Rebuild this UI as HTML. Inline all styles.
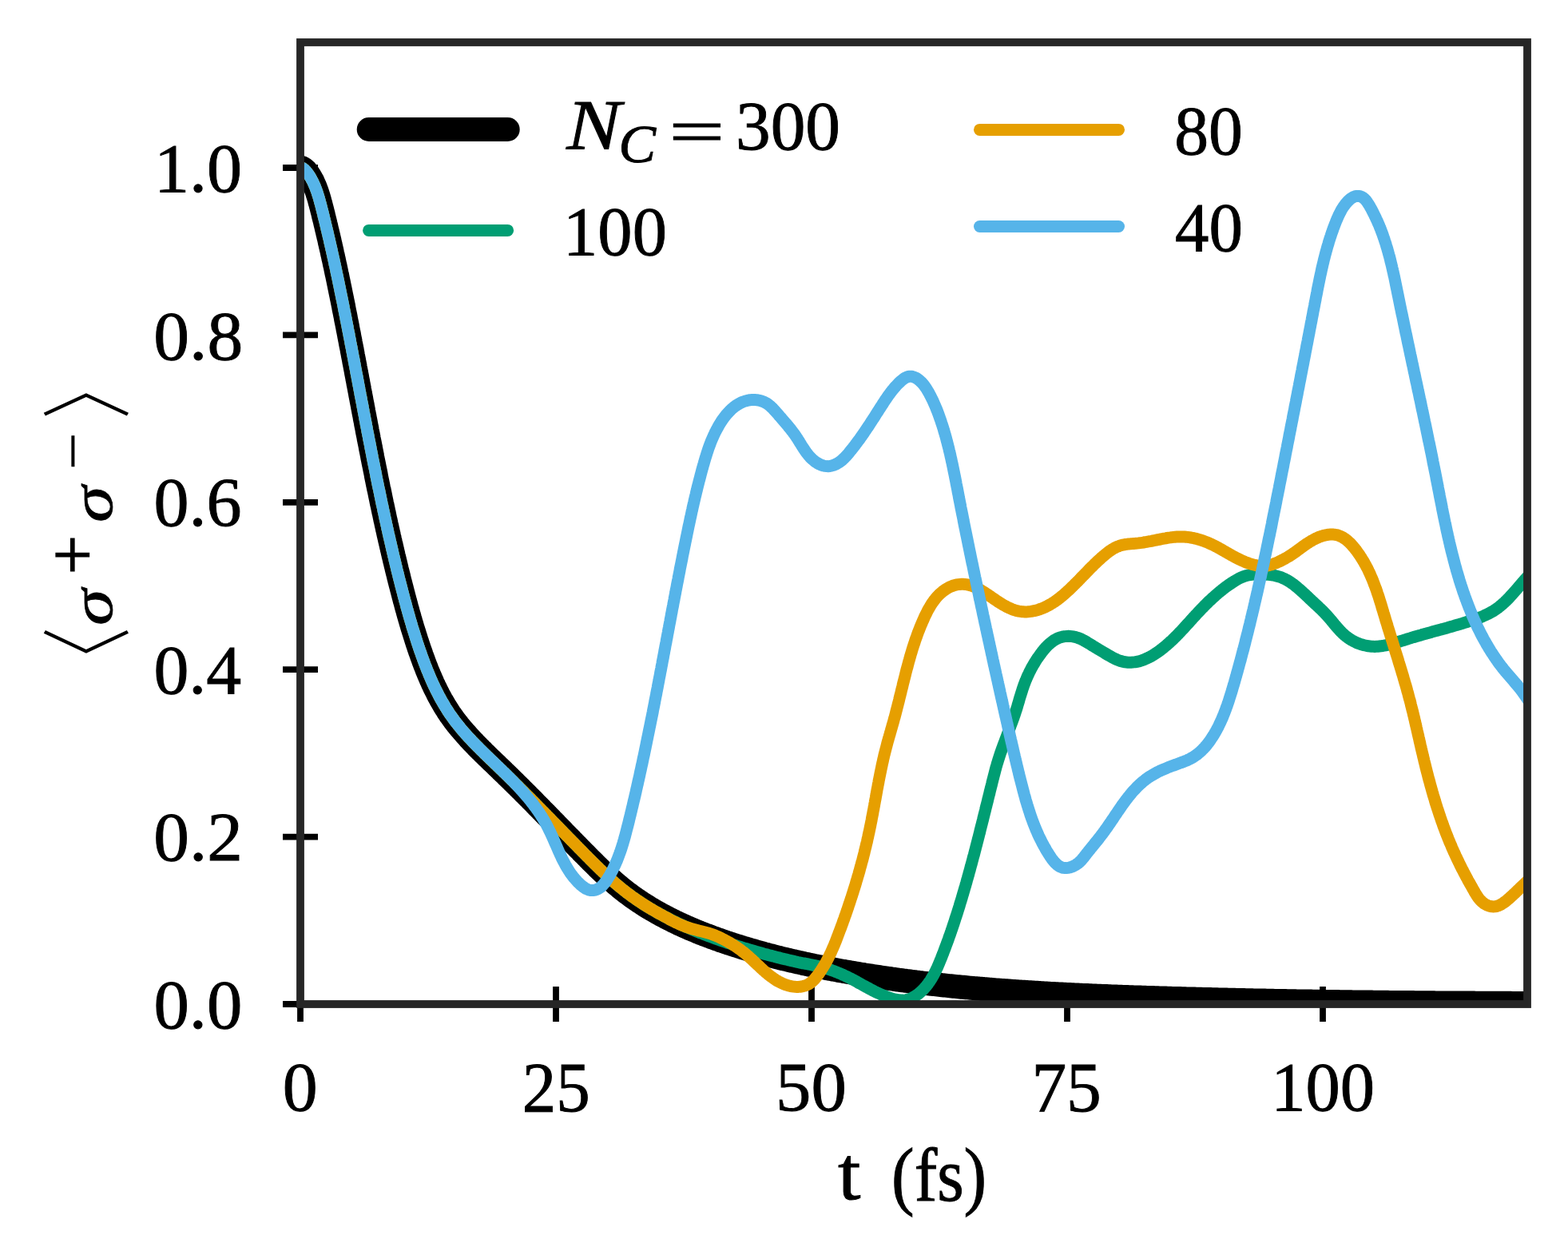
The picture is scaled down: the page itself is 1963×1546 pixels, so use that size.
<!DOCTYPE html>
<html><head><meta charset="utf-8"><title>plot</title><style>html,body{margin:0;padding:0;background:#fff;overflow:hidden}svg{display:block}</style></head><body>
<svg xmlns="http://www.w3.org/2000/svg" width="1963" height="1546" viewBox="0 0 1963 1546">
<rect width="1963" height="1546" fill="#ffffff"/>
<defs><clipPath id="ax"><rect x="376" y="53" width="1536" height="1204"/></clipPath></defs>
<path d="M376.0,1235 V1279 M696.0,1235 V1279 M1016.0,1235 V1279 M1336.0,1235 V1279 M1656.0,1235 V1279 M354,1257.0 H398 M354,1047.6 H398 M354,838.2 H398 M354,628.8 H398 M354,419.4 H398 M354,210.0 H398" stroke="#000" stroke-width="7.8" fill="none"/>
<g clip-path="url(#ax)" fill="none" stroke-linecap="round" stroke-linejoin="round">
<path d="M360.0,210.0 L361.8,210.2 L363.8,210.1 L365.9,209.9 L368.1,209.6 L370.3,209.4 L372.5,209.2 L374.5,209.3 L376.5,209.6 L378.2,210.2 L379.8,211.2 L381.3,212.3 L382.7,213.7 L383.9,215.2 L385.1,216.7 L386.3,218.3 L387.4,219.9 L388.4,221.6 L389.4,223.3 L390.3,225.0 L391.3,226.7 L392.1,228.5 L392.9,230.3 L393.7,232.1 L394.5,233.9 L395.2,235.7 L395.9,237.6 L396.6,239.4 L397.2,241.3 L397.8,243.2 L398.4,245.1 L399.0,247.0 L399.6,249.0 L400.1,250.9 L400.6,252.9 L401.2,254.8 L401.7,256.8 L402.2,258.7 L402.7,260.7 L403.2,262.6 L403.7,264.6 L404.2,266.5 L404.7,268.5 L405.1,270.5 L405.6,272.4 L406.1,274.4 L406.6,276.3 L407.1,278.3 L407.5,280.2 L408.0,282.2 L408.5,284.1 L408.9,286.1 L409.4,288.1 L409.9,290.0 L410.3,292.0 L410.8,293.9 L411.2,295.9 L411.7,297.8 L412.2,299.8 L412.6,301.7 L413.0,303.7 L413.5,305.6 L413.9,307.6 L414.4,309.5 L414.8,311.5 L415.3,313.4 L415.7,315.4 L416.1,317.3 L416.6,319.3 L417.0,321.2 L417.4,323.2 L417.9,325.1 L418.3,327.1 L418.7,329.0 L419.1,331.0 L419.6,332.9 L420.0,334.9 L420.4,336.8 L420.8,338.8 L421.2,340.8 L421.6,342.7 L422.1,344.7 L422.5,346.6 L422.9,348.6 L423.3,350.5 L423.7,352.5 L424.1,354.4 L424.5,356.4 L424.9,358.3 L425.3,360.3 L425.7,362.2 L426.1,364.2 L426.5,366.1 L426.9,368.1 L427.3,370.0 L427.7,372.0 L428.1,373.9 L428.5,375.9 L428.9,377.8 L429.3,379.8 L429.7,381.8 L430.1,383.7 L430.4,385.7 L430.8,387.6 L431.2,389.6 L431.6,391.5 L432.0,393.5 L432.4,395.4 L432.8,397.4 L433.1,399.4 L433.5,401.3 L433.9,403.3 L434.3,405.2 L434.7,407.2 L435.1,409.1 L435.4,411.1 L435.8,413.1 L436.2,415.0 L436.6,417.0 L437.0,418.9 L437.3,420.9 L437.7,422.9 L438.1,424.8 L438.5,426.8 L438.8,428.7 L439.2,430.7 L439.6,432.7 L440.0,434.6 L440.4,436.6 L440.7,438.5 L441.1,440.5 L441.5,442.5 L441.8,444.4 L442.2,446.4 L442.6,448.4 L443.0,450.3 L443.3,452.3 L443.7,454.2 L444.1,456.2 L444.5,458.2 L444.8,460.1 L445.2,462.1 L445.6,464.1 L445.9,466.0 L446.3,468.0 L446.7,470.0 L447.1,471.9 L447.4,473.9 L447.8,475.8 L448.2,477.8 L448.5,479.8 L448.9,481.7 L449.3,483.7 L449.7,485.7 L450.0,487.6 L450.4,489.6 L450.8,491.6 L451.1,493.5 L451.5,495.5 L451.9,497.5 L452.3,499.4 L452.6,501.4 L453.0,503.4 L453.4,505.3 L453.8,507.3 L454.1,509.3 L454.5,511.2 L454.9,513.2 L455.2,515.1 L455.6,517.1 L456.0,519.1 L456.4,521.0 L456.7,523.0 L457.1,525.0 L457.5,526.9 L457.9,528.9 L458.2,530.9 L458.6,532.8 L459.0,534.8 L459.4,536.8 L459.7,538.7 L460.1,540.7 L460.5,542.7 L460.9,544.6 L461.3,546.6 L461.6,548.6 L462.0,550.5 L462.4,552.5 L462.8,554.4 L463.2,556.4 L463.6,558.4 L463.9,560.3 L464.3,562.3 L464.7,564.3 L465.1,566.2 L465.5,568.2 L465.9,570.2 L466.2,572.1 L466.6,574.1 L467.0,576.0 L467.4,578.0 L467.8,580.0 L468.2,581.9 L468.6,583.9 L469.0,585.9 L469.4,587.8 L469.8,589.8 L470.2,591.7 L470.6,593.7 L470.9,595.7 L471.3,597.6 L471.7,599.6 L472.1,601.5 L472.5,603.5 L472.9,605.5 L473.3,607.4 L473.7,609.4 L474.1,611.3 L474.6,613.3 L475.0,615.3 L475.4,617.2 L475.8,619.2 L476.2,621.1 L476.6,623.1 L477.0,625.0 L477.4,627.0 L477.8,629.0 L478.2,630.9 L478.7,632.9 L479.1,634.8 L479.5,636.8 L479.9,638.7 L480.3,640.7 L480.8,642.6 L481.2,644.6 L481.6,646.6 L482.0,648.5 L482.4,650.5 L482.9,652.4 L483.3,654.4 L483.7,656.3 L484.2,658.3 L484.6,660.2 L485.0,662.2 L485.5,664.1 L485.9,666.1 L486.3,668.0 L486.8,670.0 L487.2,671.9 L487.7,673.9 L488.1,675.8 L488.6,677.8 L489.0,679.7 L489.5,681.6 L489.9,683.6 L490.4,685.5 L490.8,687.5 L491.3,689.4 L491.7,691.4 L492.2,693.3 L492.6,695.3 L493.1,697.2 L493.6,699.1 L494.0,701.1 L494.5,703.0 L495.0,705.0 L495.4,706.9 L495.9,708.8 L496.4,710.8 L496.8,712.7 L497.3,714.7 L497.8,716.6 L498.3,718.5 L498.8,720.5 L499.2,722.4 L499.7,724.3 L500.2,726.3 L500.7,728.2 L501.2,730.1 L501.7,732.1 L502.2,734.0 L502.7,735.9 L503.2,737.9 L503.7,739.8 L504.2,741.7 L504.7,743.6 L505.2,745.6 L505.7,747.5 L506.2,749.4 L506.7,751.4 L507.3,753.3 L507.8,755.2 L508.3,757.1 L508.8,759.1 L509.3,761.0 L509.9,762.9 L510.4,764.8 L510.9,766.7 L511.5,768.7 L512.0,770.6 L512.6,772.5 L513.1,774.4 L513.7,776.3 L514.2,778.2 L514.8,780.2 L515.4,782.1 L515.9,784.0 L516.5,785.9 L517.1,787.8 L517.7,789.7 L518.3,791.6 L518.9,793.5 L519.5,795.4 L520.1,797.3 L520.7,799.2 L521.3,801.2 L521.9,803.1 L522.5,805.0 L523.2,806.9 L523.8,808.8 L524.4,810.7 L525.1,812.6 L525.7,814.5 L526.4,816.3 L527.1,818.2 L527.7,820.1 L528.4,822.0 L529.1,823.9 L529.8,825.8 L530.5,827.7 L531.2,829.6 L531.9,831.5 L532.6,833.3 L533.4,835.2 L534.1,837.1 L534.8,839.0 L535.6,840.8 L536.4,842.7 L537.1,844.5 L537.9,846.4 L538.7,848.2 L539.5,850.1 L540.3,851.9 L541.1,853.7 L541.9,855.6 L542.8,857.4 L543.6,859.2 L544.5,861.0 L545.4,862.8 L546.3,864.6 L547.2,866.4 L548.1,868.2 L549.0,870.0 L549.9,871.7 L550.9,873.5 L551.8,875.2 L552.8,877.0 L553.8,878.7 L554.8,880.4 L555.8,882.1 L556.8,883.8 L557.8,885.5 L558.9,887.2 L560.0,888.9 L561.0,890.6 L562.1,892.2 L563.2,893.9 L564.4,895.5 L565.5,897.1 L566.7,898.7 L567.8,900.3 L569.0,901.9 L570.2,903.5 L571.4,905.1 L572.7,906.6 L573.9,908.2 L575.2,909.7 L576.4,911.3 L577.7,912.8 L579.0,914.3 L580.3,915.8 L581.6,917.3 L582.9,918.8 L584.3,920.3 L585.6,921.8 L586.9,923.3 L588.3,924.7 L589.7,926.2 L591.0,927.7 L592.4,929.1 L593.8,930.6 L595.2,932.0 L596.6,933.4 L598.0,934.9 L599.4,936.3 L600.8,937.7 L602.2,939.1 L603.7,940.5 L605.1,942.0 L606.5,943.4 L608.0,944.8 L609.4,946.2 L610.9,947.6 L612.3,949.0 L613.7,950.4 L615.2,951.8 L616.6,953.2 L618.1,954.5 L619.5,955.9 L621.0,957.3 L622.4,958.7 L623.9,960.1 L625.3,961.5 L626.8,962.9 L628.2,964.3 L629.7,965.7 L631.1,967.1 L632.6,968.5 L634.0,969.9 L635.4,971.3 L636.9,972.7 L638.3,974.1 L639.7,975.5 L641.2,976.9 L642.6,978.3 L644.0,979.7 L645.4,981.1 L646.8,982.5 L648.3,983.9 L649.7,985.3 L651.1,986.7 L652.5,988.1 L653.9,989.5 L655.3,990.9 L656.7,992.3 L658.1,993.7 L659.5,995.1 L660.9,996.6 L662.4,998.0 L663.8,999.4 L665.2,1000.8 L666.6,1002.2 L668.0,1003.6 L669.4,1005.0 L670.7,1006.5 L672.1,1007.9 L673.5,1009.3 L674.9,1010.7 L676.3,1012.1 L677.7,1013.6 L679.1,1015.0 L680.5,1016.4 L681.9,1017.8 L683.3,1019.2 L684.7,1020.7 L686.1,1022.1 L687.5,1023.5 L688.9,1024.9 L690.2,1026.4 L691.6,1027.8 L693.0,1029.2 L694.4,1030.6 L695.8,1032.1 L697.2,1033.5 L698.6,1034.9 L700.0,1036.4 L701.4,1037.8 L702.8,1039.2 L704.2,1040.6 L705.5,1042.1 L706.9,1043.5 L708.3,1044.9 L709.7,1046.4 L711.1,1047.8 L712.5,1049.2 L713.9,1050.6 L715.3,1052.1 L716.7,1053.5 L718.1,1054.9 L719.5,1056.4 L720.9,1057.8 L722.3,1059.2 L723.7,1060.7 L725.1,1062.1 L726.5,1063.5 L727.9,1064.9 L729.3,1066.4 L730.7,1067.8 L732.1,1069.2 L733.6,1070.7 L735.0,1072.1 L736.4,1073.5 L737.8,1075.0 L739.2,1076.4 L740.6,1077.8 L742.1,1079.2 L743.5,1080.6 L744.9,1082.1 L746.4,1083.5 L747.8,1084.9 L749.2,1086.3 L750.7,1087.7 L752.1,1089.1 L753.6,1090.5 L755.0,1091.9 L756.5,1093.2 L758.0,1094.6 L759.4,1096.0 L760.9,1097.3 L762.4,1098.7 L763.9,1100.0 L765.4,1101.4 L766.9,1102.7 L768.4,1104.0 L769.9,1105.3 L771.4,1106.6 L772.9,1107.9 L774.5,1109.2 L776.0,1110.5 L777.6,1111.8 L779.1,1113.0 L780.7,1114.3 L782.3,1115.5 L783.8,1116.7 L785.4,1117.9 L787.0,1119.1 L788.6,1120.3 L790.2,1121.5 L791.8,1122.7 L793.5,1123.8 L795.1,1124.9 L796.7,1126.1 L798.4,1127.2 L800.0,1128.3 L801.7,1129.4 L803.3,1130.5 L805.0,1131.6 L806.7,1132.7 L808.4,1133.7 L810.0,1134.8 L811.7,1135.8 L813.4,1136.9 L815.1,1137.9 L816.9,1138.9 L818.6,1139.9 L820.3,1140.9 L822.0,1141.9 L823.8,1142.9 L825.5,1143.8 L827.3,1144.8 L829.0,1145.7 L830.8,1146.7 L832.5,1147.6 L834.3,1148.5 L836.1,1149.4 L837.8,1150.3 L839.6,1151.2 L841.4,1152.1 L843.2,1153.0 L845.0,1153.9 L846.8,1154.7 L848.6,1155.6 L850.4,1156.5 L852.2,1157.3 L854.0,1158.1 L855.9,1159.0 L857.7,1159.8 L859.5,1160.6 L861.4,1161.4 L863.2,1162.2 L865.0,1163.0 L866.9,1163.8 L868.7,1164.5 L870.6,1165.3 L872.4,1166.1 L874.3,1166.8 L876.1,1167.6 L878.0,1168.3 L879.9,1169.0 L881.7,1169.8 L883.6,1170.5 L885.5,1171.2 L887.4,1171.9 L889.2,1172.6 L891.1,1173.3 L893.0,1174.0 L894.9,1174.7 L896.8,1175.4 L898.7,1176.0 L900.6,1176.7 L902.4,1177.4 L904.3,1178.0 L906.2,1178.7 L908.1,1179.3 L910.0,1180.0 L911.9,1180.6 L913.8,1181.2 L915.7,1181.8 L917.6,1182.5 L919.6,1183.1 L921.5,1183.7 L923.4,1184.3 L925.3,1184.9 L927.2,1185.5 L929.1,1186.1 L931.0,1186.7 L932.9,1187.2 L934.9,1187.8 L936.8,1188.4 L938.7,1189.0 L940.6,1189.5 L942.5,1190.1 L944.5,1190.6 L946.4,1191.2 L948.3,1191.7 L950.2,1192.3 L952.2,1192.8 L954.1,1193.3 L956.0,1193.9 L957.9,1194.4 L959.9,1194.9 L961.8,1195.4 L963.7,1195.9 L965.7,1196.4 L967.6,1197.0 L969.6,1197.4 L971.5,1197.9 L973.4,1198.4 L975.4,1198.9 L977.3,1199.4 L979.2,1199.9 L981.2,1200.4 L983.1,1200.8 L985.1,1201.3 L987.0,1201.8 L989.0,1202.2 L990.9,1202.7 L992.9,1203.1 L994.8,1203.6 L996.8,1204.0 L998.7,1204.5 L1000.7,1204.9 L1002.6,1205.3 L1004.6,1205.8 L1006.5,1206.2 L1008.5,1206.6 L1010.4,1207.0 L1012.4,1207.4 L1014.3,1207.9 L1016.3,1208.3 L1018.2,1208.7 L1020.2,1209.1 L1022.2,1209.5 L1024.1,1209.9 L1026.1,1210.3 L1028.0,1210.7 L1030.0,1211.0 L1032.0,1211.4 L1033.9,1211.8 L1035.9,1212.2 L1037.8,1212.6 L1039.8,1212.9 L1041.8,1213.3 L1043.7,1213.7 L1045.7,1214.0 L1047.7,1214.4 L1049.6,1214.8 L1051.6,1215.1 L1053.6,1215.5 L1055.5,1215.8 L1057.5,1216.2 L1059.5,1216.5 L1061.4,1216.9 L1063.4,1217.2 L1065.4,1217.5 L1067.3,1217.9 L1069.3,1218.2 L1071.3,1218.5 L1073.2,1218.9 L1075.2,1219.2 L1077.2,1219.5 L1079.2,1219.8 L1081.1,1220.2 L1083.1,1220.5 L1085.1,1220.8 L1087.0,1221.1 L1089.0,1221.4 L1091.0,1221.7 L1093.0,1222.0 L1094.9,1222.3 L1096.9,1222.6 L1098.9,1222.9 L1100.9,1223.2 L1102.8,1223.5 L1104.8,1223.8 L1106.8,1224.1 L1108.8,1224.4 L1110.7,1224.7 L1112.7,1224.9 L1114.7,1225.2 L1116.7,1225.5 L1118.6,1225.8 L1120.6,1226.0 L1122.6,1226.3 L1124.6,1226.6 L1126.5,1226.8 L1128.5,1227.1 L1130.5,1227.4 L1132.5,1227.6 L1134.5,1227.9 L1136.4,1228.1 L1138.4,1228.4 L1140.4,1228.7 L1142.4,1228.9 L1144.4,1229.1 L1146.3,1229.4 L1148.3,1229.6 L1150.3,1229.9 L1152.3,1230.1 L1154.3,1230.4 L1156.3,1230.6 L1158.2,1230.8 L1160.2,1231.1 L1162.2,1231.3 L1164.2,1231.5 L1166.2,1231.7 L1168.2,1232.0 L1170.1,1232.2 L1172.1,1232.4 L1174.1,1232.6 L1176.1,1232.8 L1178.1,1233.0 L1180.1,1233.3 L1182.1,1233.5 L1184.0,1233.7 L1186.0,1233.9 L1188.0,1234.1 L1190.0,1234.3 L1192.0,1234.5 L1194.0,1234.7 L1196.0,1234.9 L1197.9,1235.1 L1199.9,1235.3 L1201.9,1235.5 L1203.9,1235.7 L1205.9,1235.8 L1207.9,1236.0 L1209.9,1236.2 L1211.9,1236.4 L1213.9,1236.6 L1215.8,1236.8 L1217.8,1236.9 L1219.8,1237.1 L1221.8,1237.3 L1223.8,1237.5 L1225.8,1237.6 L1227.8,1237.8 L1229.8,1238.0 L1231.8,1238.1 L1233.8,1238.3 L1235.8,1238.5 L1237.7,1238.6 L1239.7,1238.8 L1241.7,1239.0 L1243.7,1239.1 L1245.7,1239.3 L1247.7,1239.4 L1249.7,1239.6 L1251.7,1239.7 L1253.7,1239.9 L1255.7,1240.0 L1257.7,1240.2 L1259.7,1240.3 L1261.7,1240.5 L1263.6,1240.6 L1265.6,1240.7 L1267.6,1240.9 L1269.6,1241.0 L1271.6,1241.2 L1273.6,1241.3 L1275.6,1241.4 L1277.6,1241.6 L1279.6,1241.7 L1281.6,1241.8 L1283.6,1242.0 L1285.6,1242.1 L1287.6,1242.2 L1289.6,1242.3 L1291.6,1242.5 L1293.6,1242.6 L1295.6,1242.7 L1297.6,1242.8 L1299.6,1243.0 L1301.6,1243.1 L1303.6,1243.2 L1305.5,1243.3 L1307.5,1243.4 L1309.5,1243.5 L1311.5,1243.7 L1313.5,1243.8 L1315.5,1243.9 L1317.5,1244.0 L1319.5,1244.1 L1321.5,1244.2 L1323.5,1244.3 L1325.5,1244.4 L1327.5,1244.5 L1329.5,1244.6 L1331.5,1244.7 L1333.5,1244.8 L1335.5,1244.9 L1337.5,1245.0 L1339.5,1245.1 L1341.5,1245.2 L1343.5,1245.3 L1345.5,1245.4 L1347.5,1245.5 L1349.5,1245.6 L1351.5,1245.7 L1353.5,1245.8 L1355.5,1245.9 L1357.5,1246.0 L1359.5,1246.1 L1361.5,1246.1 L1363.5,1246.2 L1365.5,1246.3 L1367.5,1246.4 L1369.5,1246.5 L1371.5,1246.6 L1373.5,1246.7 L1375.5,1246.7 L1377.5,1246.8 L1379.5,1246.9 L1381.5,1247.0 L1383.5,1247.1 L1385.5,1247.1 L1387.5,1247.2 L1389.5,1247.3 L1391.5,1247.4 L1393.5,1247.4 L1395.5,1247.5 L1397.5,1247.6 L1399.5,1247.7 L1401.5,1247.7 L1403.5,1247.8 L1405.5,1247.9 L1407.5,1248.0 L1409.5,1248.0 L1411.5,1248.1 L1413.5,1248.2 L1415.5,1248.2 L1417.5,1248.3 L1419.5,1248.4 L1421.5,1248.4 L1423.5,1248.5 L1425.5,1248.6 L1427.5,1248.6 L1429.5,1248.7 L1431.5,1248.8 L1433.5,1248.8 L1435.5,1248.9 L1437.5,1249.0 L1439.5,1249.0 L1441.5,1249.1 L1443.5,1249.1 L1445.5,1249.2 L1447.5,1249.3 L1449.4,1249.3 L1451.4,1249.4 L1453.4,1249.4 L1455.4,1249.5 L1457.4,1249.6 L1459.4,1249.6 L1461.4,1249.7 L1463.4,1249.7 L1465.4,1249.8 L1467.4,1249.9 L1469.4,1249.9 L1471.4,1250.0 L1473.4,1250.0 L1475.4,1250.1 L1477.4,1250.1 L1479.4,1250.2 L1481.4,1250.3 L1483.4,1250.3 L1485.4,1250.4 L1487.4,1250.4 L1489.4,1250.5 L1491.4,1250.5 L1493.4,1250.6 L1495.4,1250.6 L1497.4,1250.7 L1499.4,1250.7 L1501.4,1250.8 L1503.4,1250.8 L1505.4,1250.9 L1507.4,1250.9 L1509.4,1251.0 L1511.4,1251.0 L1513.4,1251.1 L1515.4,1251.1 L1517.4,1251.2 L1519.4,1251.2 L1521.4,1251.3 L1523.4,1251.3 L1525.4,1251.4 L1527.4,1251.4 L1529.4,1251.5 L1531.4,1251.5 L1533.4,1251.6 L1535.4,1251.6 L1537.4,1251.7 L1539.4,1251.7 L1541.4,1251.8 L1543.4,1251.8 L1545.4,1251.8 L1547.4,1251.9 L1549.4,1251.9 L1551.4,1252.0 L1553.4,1252.0 L1555.4,1252.1 L1557.3,1252.1 L1559.3,1252.2 L1561.3,1252.2 L1563.3,1252.2 L1565.3,1252.3 L1567.3,1252.3 L1569.3,1252.4 L1571.3,1252.4 L1573.3,1252.4 L1575.3,1252.5 L1577.3,1252.5 L1579.3,1252.6 L1581.3,1252.6 L1583.3,1252.6 L1585.3,1252.7 L1587.3,1252.7 L1589.3,1252.8 L1591.3,1252.8 L1593.3,1252.8 L1595.3,1252.9 L1597.3,1252.9 L1599.3,1252.9 L1601.3,1253.0 L1603.3,1253.0 L1605.3,1253.0 L1607.3,1253.1 L1609.3,1253.1 L1611.3,1253.2 L1613.3,1253.2 L1615.3,1253.2 L1617.3,1253.3 L1619.3,1253.3 L1621.3,1253.3 L1623.3,1253.4 L1625.3,1253.4 L1627.3,1253.4 L1629.2,1253.5 L1631.2,1253.5 L1633.2,1253.5 L1635.2,1253.6 L1637.2,1253.6 L1639.2,1253.6 L1641.2,1253.6 L1643.2,1253.7 L1645.2,1253.7 L1647.2,1253.7 L1649.2,1253.8 L1651.2,1253.8 L1653.2,1253.8 L1655.2,1253.9 L1657.2,1253.9 L1659.2,1253.9 L1661.2,1253.9 L1663.2,1254.0 L1665.2,1254.0 L1667.2,1254.0 L1669.2,1254.1 L1671.2,1254.1 L1673.2,1254.1 L1675.2,1254.1 L1677.2,1254.2 L1679.2,1254.2 L1681.2,1254.2 L1683.2,1254.2 L1685.2,1254.3 L1687.2,1254.3 L1689.2,1254.3 L1691.2,1254.3 L1693.2,1254.4 L1695.2,1254.4 L1697.2,1254.4 L1699.1,1254.4 L1701.1,1254.5 L1703.1,1254.5 L1705.1,1254.5 L1707.1,1254.5 L1709.1,1254.5 L1711.1,1254.6 L1713.1,1254.6 L1715.1,1254.6 L1717.1,1254.6 L1719.1,1254.7 L1721.1,1254.7 L1723.1,1254.7 L1725.1,1254.7 L1727.1,1254.7 L1729.1,1254.8 L1731.1,1254.8 L1733.1,1254.8 L1735.1,1254.8 L1737.1,1254.8 L1739.1,1254.9 L1741.1,1254.9 L1743.1,1254.9 L1745.1,1254.9 L1747.1,1254.9 L1749.1,1255.0 L1751.1,1255.0 L1753.1,1255.0 L1755.1,1255.0 L1757.1,1255.0 L1759.1,1255.1 L1761.1,1255.1 L1763.1,1255.1 L1765.1,1255.1 L1767.1,1255.1 L1769.1,1255.1 L1771.1,1255.2 L1773.1,1255.2 L1775.1,1255.2 L1777.1,1255.2 L1779.1,1255.2 L1781.1,1255.2 L1783.0,1255.2 L1785.0,1255.3 L1787.0,1255.3 L1789.0,1255.3 L1791.0,1255.3 L1793.0,1255.3 L1795.0,1255.3 L1797.0,1255.4 L1799.0,1255.4 L1801.0,1255.4 L1803.0,1255.4 L1805.0,1255.4 L1807.0,1255.4 L1809.0,1255.4 L1811.0,1255.4 L1813.0,1255.5 L1815.0,1255.5 L1817.0,1255.5 L1819.0,1255.5 L1821.0,1255.5 L1823.0,1255.5 L1825.0,1255.5 L1827.0,1255.5 L1829.0,1255.6 L1831.0,1255.6 L1833.0,1255.6 L1835.0,1255.6 L1837.0,1255.6 L1839.0,1255.6 L1841.0,1255.6 L1843.0,1255.6 L1845.0,1255.6 L1847.0,1255.7 L1849.0,1255.7 L1851.0,1255.7 L1853.0,1255.7 L1855.0,1255.7 L1857.0,1255.7 L1859.0,1255.7 L1861.0,1255.7 L1863.0,1255.7 L1865.0,1255.7 L1867.0,1255.8 L1869.0,1255.8 L1871.0,1255.8 L1873.0,1255.8 L1875.0,1255.8 L1877.0,1255.8 L1879.0,1255.8 L1881.0,1255.8 L1883.0,1255.8 L1885.0,1255.8 L1887.0,1255.8 L1889.0,1255.8 L1891.0,1255.8 L1893.0,1255.9 L1895.0,1255.9 L1897.0,1255.9 L1899.0,1255.9 L1901.0,1255.9 L1903.0,1255.9 L1905.0,1255.9 L1907.0,1255.9 L1909.0,1255.9 L1911.0,1255.9 L1913.0,1255.9 L1915.0,1255.9 L1917.0,1255.9 L1919.0,1255.9 L1921.0,1255.9 L1923.0,1256.0 L1925.0,1256.0 L1927.0,1256.0 L1929.0,1256.0 L1931.0,1256.0 L1933.0,1256.0 L1935.0,1256.0" stroke="#000000" stroke-width="30"/>
<path d="M360.0,210.0 L361.8,210.2 L363.8,210.1 L365.9,209.9 L368.1,209.6 L370.3,209.4 L372.5,209.2 L374.5,209.3 L376.5,209.6 L378.2,210.2 L379.8,211.2 L381.3,212.3 L382.7,213.7 L383.9,215.2 L385.1,216.7 L386.3,218.3 L387.4,219.9 L388.4,221.6 L389.4,223.3 L390.3,225.0 L391.3,226.7 L392.1,228.5 L392.9,230.3 L393.7,232.1 L394.5,233.9 L395.2,235.7 L395.9,237.6 L396.6,239.4 L397.2,241.3 L397.8,243.2 L398.4,245.1 L399.0,247.0 L399.6,249.0 L400.1,250.9 L400.6,252.9 L401.2,254.8 L401.7,256.8 L402.2,258.7 L402.7,260.7 L403.2,262.6 L403.7,264.6 L404.2,266.5 L404.7,268.5 L405.1,270.5 L405.6,272.4 L406.1,274.4 L406.6,276.3 L407.1,278.3 L407.5,280.2 L408.0,282.2 L408.5,284.1 L408.9,286.1 L409.4,288.1 L409.9,290.0 L410.3,292.0 L410.8,293.9 L411.2,295.9 L411.7,297.8 L412.2,299.8 L412.6,301.7 L413.0,303.7 L413.5,305.6 L413.9,307.6 L414.4,309.5 L414.8,311.5 L415.3,313.4 L415.7,315.4 L416.1,317.3 L416.6,319.3 L417.0,321.2 L417.4,323.2 L417.9,325.1 L418.3,327.1 L418.7,329.0 L419.1,331.0 L419.6,332.9 L420.0,334.9 L420.4,336.8 L420.8,338.8 L421.2,340.8 L421.6,342.7 L422.1,344.7 L422.5,346.6 L422.9,348.6 L423.3,350.5 L423.7,352.5 L424.1,354.4 L424.5,356.4 L424.9,358.3 L425.3,360.3 L425.7,362.2 L426.1,364.2 L426.5,366.1 L426.9,368.1 L427.3,370.0 L427.7,372.0 L428.1,373.9 L428.5,375.9 L428.9,377.8 L429.3,379.8 L429.7,381.8 L430.1,383.7 L430.4,385.7 L430.8,387.6 L431.2,389.6 L431.6,391.5 L432.0,393.5 L432.4,395.4 L432.8,397.4 L433.1,399.4 L433.5,401.3 L433.9,403.3 L434.3,405.2 L434.7,407.2 L435.1,409.1 L435.4,411.1 L435.8,413.1 L436.2,415.0 L436.6,417.0 L437.0,418.9 L437.3,420.9 L437.7,422.9 L438.1,424.8 L438.5,426.8 L438.8,428.7 L439.2,430.7 L439.6,432.7 L440.0,434.6 L440.4,436.6 L440.7,438.5 L441.1,440.5 L441.5,442.5 L441.8,444.4 L442.2,446.4 L442.6,448.4 L443.0,450.3 L443.3,452.3 L443.7,454.2 L444.1,456.2 L444.5,458.2 L444.8,460.1 L445.2,462.1 L445.6,464.1 L445.9,466.0 L446.3,468.0 L446.7,470.0 L447.1,471.9 L447.4,473.9 L447.8,475.8 L448.2,477.8 L448.5,479.8 L448.9,481.7 L449.3,483.7 L449.7,485.7 L450.0,487.6 L450.4,489.6 L450.8,491.6 L451.1,493.5 L451.5,495.5 L451.9,497.5 L452.3,499.4 L452.6,501.4 L453.0,503.4 L453.4,505.3 L453.8,507.3 L454.1,509.3 L454.5,511.2 L454.9,513.2 L455.2,515.1 L455.6,517.1 L456.0,519.1 L456.4,521.0 L456.7,523.0 L457.1,525.0 L457.5,526.9 L457.9,528.9 L458.2,530.9 L458.6,532.8 L459.0,534.8 L459.4,536.8 L459.7,538.7 L460.1,540.7 L460.5,542.7 L460.9,544.6 L461.3,546.6 L461.6,548.6 L462.0,550.5 L462.4,552.5 L462.8,554.4 L463.2,556.4 L463.6,558.4 L463.9,560.3 L464.3,562.3 L464.7,564.3 L465.1,566.2 L465.5,568.2 L465.9,570.2 L466.2,572.1 L466.6,574.1 L467.0,576.0 L467.4,578.0 L467.8,580.0 L468.2,581.9 L468.6,583.9 L469.0,585.9 L469.4,587.8 L469.8,589.8 L470.2,591.7 L470.6,593.7 L470.9,595.7 L471.3,597.6 L471.7,599.6 L472.1,601.5 L472.5,603.5 L472.9,605.5 L473.3,607.4 L473.7,609.4 L474.1,611.3 L474.6,613.3 L475.0,615.3 L475.4,617.2 L475.8,619.2 L476.2,621.1 L476.6,623.1 L477.0,625.0 L477.4,627.0 L477.8,629.0 L478.2,630.9 L478.7,632.9 L479.1,634.8 L479.5,636.8 L479.9,638.7 L480.3,640.7 L480.8,642.6 L481.2,644.6 L481.6,646.6 L482.0,648.5 L482.4,650.5 L482.9,652.4 L483.3,654.4 L483.7,656.3 L484.2,658.3 L484.6,660.2 L485.0,662.2 L485.5,664.1 L485.9,666.1 L486.3,668.0 L486.8,670.0 L487.2,671.9 L487.7,673.9 L488.1,675.8 L488.6,677.8 L489.0,679.7 L489.5,681.6 L489.9,683.6 L490.4,685.5 L490.8,687.5 L491.3,689.4 L491.7,691.4 L492.2,693.3 L492.6,695.3 L493.1,697.2 L493.6,699.1 L494.0,701.1 L494.5,703.0 L495.0,705.0 L495.4,706.9 L495.9,708.8 L496.4,710.8 L496.8,712.7 L497.3,714.7 L497.8,716.6 L498.3,718.5 L498.8,720.5 L499.2,722.4 L499.7,724.3 L500.2,726.3 L500.7,728.2 L501.2,730.1 L501.7,732.1 L502.2,734.0 L502.7,735.9 L503.2,737.9 L503.7,739.8 L504.2,741.7 L504.7,743.6 L505.2,745.6 L505.7,747.5 L506.2,749.4 L506.7,751.4 L507.3,753.3 L507.8,755.2 L508.3,757.1 L508.8,759.1 L509.3,761.0 L509.9,762.9 L510.4,764.8 L510.9,766.7 L511.5,768.7 L512.0,770.6 L512.6,772.5 L513.1,774.4 L513.7,776.3 L514.2,778.2 L514.8,780.2 L515.4,782.1 L515.9,784.0 L516.5,785.9 L517.1,787.8 L517.7,789.7 L518.3,791.6 L518.9,793.5 L519.5,795.4 L520.1,797.3 L520.7,799.2 L521.3,801.2 L521.9,803.1 L522.5,805.0 L523.2,806.9 L523.8,808.8 L524.4,810.7 L525.1,812.6 L525.7,814.5 L526.4,816.3 L527.1,818.2 L527.7,820.1 L528.4,822.0 L529.1,823.9 L529.8,825.8 L530.5,827.7 L531.2,829.6 L531.9,831.5 L532.6,833.3 L533.4,835.2 L534.1,837.1 L534.8,839.0 L535.6,840.8 L536.4,842.7 L537.1,844.5 L537.9,846.4 L538.7,848.2 L539.5,850.1 L540.3,851.9 L541.1,853.7 L541.9,855.6 L542.8,857.4 L543.6,859.2 L544.5,861.0 L545.4,862.8 L546.3,864.6 L547.2,866.4 L548.1,868.2 L549.0,870.0 L549.9,871.7 L550.9,873.5 L551.8,875.2 L552.8,877.0 L553.8,878.7 L554.8,880.4 L555.8,882.1 L556.8,883.8 L557.8,885.5 L558.9,887.2 L560.0,888.9 L561.0,890.6 L562.1,892.2 L563.2,893.9 L564.4,895.5 L565.5,897.1 L566.7,898.7 L567.8,900.3 L569.0,901.9 L570.2,903.5 L571.4,905.1 L572.7,906.6 L573.9,908.2 L575.2,909.7 L576.4,911.3 L577.7,912.8 L579.0,914.3 L580.3,915.8 L581.6,917.3 L582.9,918.8 L584.3,920.3 L585.6,921.8 L586.9,923.3 L588.3,924.7 L589.7,926.2 L591.0,927.7 L592.4,929.1 L593.8,930.6 L595.2,932.0 L596.6,933.4 L598.0,934.9 L599.4,936.3 L600.8,937.7 L602.2,939.1 L603.7,940.5 L605.1,942.0 L606.5,943.4 L608.0,944.8 L609.4,946.2 L610.9,947.6 L612.3,949.0 L613.7,950.4 L615.2,951.8 L616.6,953.2 L618.1,954.5 L619.5,955.9 L621.0,957.3 L622.4,958.7 L623.9,960.1 L625.3,961.5 L626.8,962.9 L628.2,964.3 L629.7,965.7 L631.1,967.1 L632.6,968.5 L634.0,969.9 L635.4,971.3 L636.9,972.7 L638.3,974.1 L639.7,975.5 L641.2,976.9 L642.6,978.3 L644.0,979.7 L645.4,981.1 L646.8,982.5 L648.3,983.9 L649.7,985.3 L651.1,986.7 L652.5,988.1 L653.9,989.5 L655.3,990.9 L656.7,992.3 L658.1,993.7 L659.5,995.1 L660.9,996.6 L662.4,998.0 L663.8,999.4 L665.2,1000.8 L666.6,1002.2 L668.0,1003.6 L669.4,1005.0 L670.7,1006.5 L672.1,1007.9 L673.5,1009.3 L674.9,1010.7 L676.3,1012.1 L677.7,1013.6 L679.1,1015.0 L680.5,1016.4 L681.9,1017.8 L683.3,1019.2 L684.7,1020.7 L686.1,1022.1 L687.5,1023.5 L688.9,1024.9 L690.2,1026.4 L691.6,1027.8 L693.0,1029.2 L694.4,1030.6 L695.8,1032.1 L697.2,1033.5 L698.6,1034.9 L700.0,1036.4 L701.4,1037.8 L702.8,1039.2 L704.2,1040.6 L705.5,1042.1 L706.9,1043.5 L708.3,1044.9 L709.7,1046.4 L711.1,1047.8 L712.5,1049.2 L713.9,1050.6 L715.3,1052.1 L716.7,1053.5 L718.1,1054.9 L719.5,1056.4 L720.9,1057.8 L722.3,1059.2 L723.7,1060.7 L725.1,1062.1 L726.5,1063.5 L727.9,1064.9 L729.3,1066.4 L730.7,1067.8 L732.1,1069.2 L733.6,1070.7 L735.0,1072.1 L736.4,1073.5 L737.8,1075.0 L739.2,1076.4 L740.6,1077.8 L742.1,1079.2 L743.5,1080.6 L744.9,1082.1 L746.4,1083.5 L747.8,1084.9 L749.2,1086.3 L750.7,1087.7 L752.1,1089.1 L753.6,1090.5 L755.0,1091.9 L756.5,1093.2 L758.0,1094.6 L759.4,1096.0 L760.9,1097.3 L762.4,1098.7 L763.9,1100.0 L765.4,1101.4 L766.9,1102.7 L768.4,1104.0 L769.9,1105.3 L771.4,1106.6 L772.9,1107.9 L774.5,1109.2 L776.0,1110.5 L777.6,1111.8 L779.1,1113.0 L780.7,1114.3 L782.3,1115.5 L783.8,1116.7 L785.4,1117.9 L787.0,1119.1 L788.6,1120.3 L790.2,1121.5 L791.8,1122.7 L793.5,1123.8 L795.1,1124.9 L796.7,1126.1 L798.4,1127.2 L800.0,1128.3 L801.7,1129.4 L803.3,1130.5 L805.0,1131.6 L806.7,1132.7 L808.4,1133.7 L810.0,1134.8 L811.7,1135.8 L813.4,1136.9 L815.1,1137.9 L816.9,1138.9 L818.6,1139.9 L820.3,1140.9 L822.0,1141.9 L823.8,1142.9 L825.5,1143.8 L827.3,1144.8 L829.0,1145.7 L830.8,1146.7 L832.5,1147.6 L834.3,1148.5 L836.1,1149.4 L837.8,1150.3 L839.6,1151.2 L841.4,1152.1 L843.2,1153.0 L845.0,1153.9 L846.8,1154.7 L848.6,1155.6 L850.4,1156.5 L852.2,1157.3 L854.0,1158.1 L855.9,1159.0 L857.7,1159.8 L859.5,1160.6 L861.4,1161.4 L863.2,1162.2 L865.0,1163.0 L866.9,1163.8 L868.7,1164.5 L870.6,1165.3 L872.4,1166.1 L874.3,1166.8 L876.1,1167.6 L878.0,1168.3 L879.9,1169.0 L881.7,1169.8 L883.6,1170.5 L885.5,1171.2 L887.4,1171.9 L889.2,1172.6 L891.1,1173.3 L893.0,1174.0 L894.9,1174.7 L896.8,1175.4 L898.7,1176.0 L900.6,1176.7 L902.4,1177.4 L904.3,1178.0 L906.2,1178.7 L908.1,1179.3 L910.0,1180.0 L911.9,1180.6 L913.8,1181.2 L915.7,1181.8 L917.6,1182.5 L919.6,1183.1 L921.5,1183.7 L923.4,1184.3 L925.3,1184.9 L927.2,1185.5 L929.1,1186.1 L931.0,1186.7 L932.9,1187.2 L934.9,1187.8 L936.8,1188.4 L938.7,1189.0 L940.6,1189.5 L942.5,1190.1 L944.5,1190.6 L946.4,1191.2 L948.3,1191.7 L950.2,1192.3 L952.2,1192.8 L954.1,1193.3 L956.0,1193.9 L957.9,1194.4 L959.9,1194.9 L961.8,1195.4 L963.7,1195.9 L965.7,1196.4 L967.6,1197.0 L969.6,1197.4 L971.5,1197.9 L973.4,1198.4 L975.4,1198.9 L977.3,1199.4 L979.2,1199.9 L981.2,1200.4 L983.1,1200.8 L985.1,1201.3 L987.0,1201.8 L989.0,1202.2 L990.9,1202.7 L992.9,1203.1 L994.8,1203.6 L996.8,1204.0 L998.7,1204.5 L1000.7,1204.9 L1002.6,1205.3 L1004.6,1205.8 L1006.6,1205.9 L1008.5,1206.3 L1010.5,1206.7 L1012.5,1207.1 L1014.4,1207.5 L1016.4,1207.9 L1018.3,1208.3 L1020.3,1208.7 L1022.2,1209.1 L1024.2,1209.6 L1026.1,1210.0 L1028.0,1210.5 L1030.0,1211.1 L1031.9,1211.6 L1033.8,1212.2 L1035.7,1212.8 L1037.6,1213.4 L1039.5,1214.0 L1041.3,1214.7 L1043.2,1215.3 L1045.1,1216.0 L1046.9,1216.8 L1048.8,1217.5 L1050.6,1218.3 L1052.5,1219.0 L1054.3,1219.8 L1056.1,1220.7 L1057.9,1221.5 L1059.7,1222.3 L1061.5,1223.2 L1063.3,1224.1 L1065.1,1225.0 L1066.8,1225.9 L1068.6,1226.8 L1070.4,1227.8 L1072.1,1228.7 L1073.9,1229.7 L1075.6,1230.7 L1077.4,1231.6 L1079.1,1232.6 L1080.8,1233.6 L1082.6,1234.5 L1084.3,1235.5 L1086.1,1236.4 L1087.9,1237.4 L1089.6,1238.3 L1091.4,1239.3 L1093.2,1240.2 L1094.9,1241.1 L1096.7,1242.0 L1098.5,1242.9 L1100.4,1243.7 L1102.2,1244.5 L1104.0,1245.4 L1105.9,1246.1 L1107.7,1246.9 L1109.6,1247.6 L1111.5,1248.3 L1113.5,1249.0 L1115.4,1249.6 L1117.3,1250.2 L1119.3,1250.7 L1121.3,1251.2 L1123.2,1251.5 L1125.2,1251.8 L1127.2,1252.0 L1129.1,1252.1 L1131.1,1252.1 L1133.0,1251.9 L1134.9,1251.6 L1136.8,1251.1 L1138.6,1250.5 L1140.5,1249.8 L1142.3,1248.9 L1144.0,1248.0 L1145.8,1247.0 L1147.4,1245.8 L1149.1,1244.7 L1150.7,1243.4 L1152.2,1242.1 L1153.7,1240.7 L1155.2,1239.3 L1156.6,1237.8 L1157.9,1236.4 L1159.2,1234.9 L1160.5,1233.3 L1161.7,1231.7 L1162.8,1230.1 L1164.0,1228.5 L1165.1,1226.8 L1166.1,1225.1 L1167.1,1223.4 L1168.1,1221.7 L1169.1,1220.0 L1170.0,1218.2 L1170.9,1216.4 L1171.8,1214.6 L1172.6,1212.8 L1173.5,1211.0 L1174.3,1209.1 L1175.1,1207.3 L1175.9,1205.4 L1176.6,1203.6 L1177.4,1201.7 L1178.2,1199.8 L1178.9,1198.0 L1179.6,1196.1 L1180.4,1194.2 L1181.1,1192.4 L1181.8,1190.5 L1182.5,1188.6 L1183.2,1186.8 L1183.9,1184.9 L1184.6,1183.0 L1185.3,1181.1 L1186.0,1179.3 L1186.7,1177.4 L1187.4,1175.5 L1188.0,1173.6 L1188.7,1171.7 L1189.4,1169.9 L1190.0,1168.0 L1190.7,1166.1 L1191.3,1164.2 L1192.0,1162.3 L1192.6,1160.4 L1193.2,1158.6 L1193.9,1156.7 L1194.5,1154.8 L1195.1,1152.9 L1195.7,1151.0 L1196.3,1149.1 L1197.0,1147.2 L1197.6,1145.3 L1198.2,1143.4 L1198.8,1141.5 L1199.4,1139.6 L1200.0,1137.7 L1200.6,1135.8 L1201.2,1133.9 L1201.7,1132.0 L1202.3,1130.1 L1202.9,1128.2 L1203.5,1126.3 L1204.1,1124.3 L1204.6,1122.4 L1205.2,1120.5 L1205.8,1118.6 L1206.3,1116.7 L1206.9,1114.8 L1207.4,1112.9 L1208.0,1110.9 L1208.6,1109.0 L1209.1,1107.1 L1209.7,1105.2 L1210.2,1103.3 L1210.7,1101.3 L1211.3,1099.4 L1211.8,1097.5 L1212.4,1095.6 L1212.9,1093.6 L1213.4,1091.7 L1214.0,1089.8 L1214.5,1087.9 L1215.0,1085.9 L1215.5,1084.0 L1216.1,1082.1 L1216.6,1080.2 L1217.1,1078.2 L1217.6,1076.3 L1218.1,1074.4 L1218.6,1072.4 L1219.2,1070.5 L1219.7,1068.6 L1220.2,1066.6 L1220.7,1064.7 L1221.2,1062.8 L1221.7,1060.8 L1222.2,1058.9 L1222.7,1057.0 L1223.2,1055.0 L1223.7,1053.1 L1224.2,1051.1 L1224.7,1049.2 L1225.2,1047.3 L1225.7,1045.3 L1226.2,1043.4 L1226.7,1041.5 L1227.1,1039.5 L1227.6,1037.6 L1228.1,1035.6 L1228.6,1033.7 L1229.1,1031.8 L1229.6,1029.8 L1230.1,1027.9 L1230.6,1025.9 L1231.0,1024.0 L1231.5,1022.1 L1232.0,1020.1 L1232.5,1018.2 L1233.0,1016.2 L1233.5,1014.3 L1233.9,1012.4 L1234.4,1010.4 L1234.9,1008.5 L1235.4,1006.5 L1235.9,1004.6 L1236.4,1002.7 L1236.8,1000.7 L1237.3,998.8 L1237.8,996.8 L1238.3,994.9 L1238.8,993.0 L1239.2,991.0 L1239.7,989.1 L1240.2,987.1 L1240.7,985.2 L1241.2,983.3 L1241.7,981.3 L1242.1,979.4 L1242.6,977.5 L1243.1,975.5 L1243.6,973.6 L1244.1,971.7 L1244.6,969.7 L1245.1,967.8 L1245.6,965.9 L1246.1,963.9 L1246.6,962.0 L1247.1,960.1 L1247.7,958.2 L1248.2,956.3 L1248.8,954.4 L1249.4,952.5 L1250.0,950.6 L1250.6,948.7 L1251.2,946.8 L1251.8,944.9 L1252.4,943.0 L1253.1,941.1 L1253.8,939.3 L1254.4,937.4 L1255.1,935.5 L1255.8,933.6 L1256.5,931.8 L1257.2,929.9 L1257.9,928.1 L1258.6,926.2 L1259.3,924.3 L1260.0,922.5 L1260.7,920.6 L1261.4,918.7 L1262.1,916.9 L1262.8,915.0 L1263.5,913.1 L1264.2,911.3 L1264.9,909.4 L1265.6,907.5 L1266.3,905.6 L1267.0,903.8 L1267.7,901.9 L1268.4,900.0 L1269.1,898.1 L1269.7,896.2 L1270.4,894.3 L1271.0,892.4 L1271.6,890.5 L1272.3,888.6 L1272.9,886.6 L1273.5,884.7 L1274.0,882.8 L1274.6,880.8 L1275.2,878.9 L1275.8,877.0 L1276.3,875.0 L1276.9,873.1 L1277.5,871.1 L1278.1,869.2 L1278.7,867.3 L1279.3,865.4 L1279.9,863.5 L1280.5,861.6 L1281.2,859.7 L1281.8,857.8 L1282.5,856.0 L1283.2,854.1 L1283.9,852.3 L1284.7,850.5 L1285.4,848.7 L1286.2,846.9 L1287.0,845.1 L1287.9,843.3 L1288.7,841.5 L1289.6,839.8 L1290.5,838.0 L1291.4,836.3 L1292.4,834.5 L1293.4,832.8 L1294.4,831.1 L1295.4,829.4 L1296.4,827.7 L1297.5,826.0 L1298.6,824.3 L1299.8,822.7 L1301.0,821.0 L1302.2,819.3 L1303.4,817.7 L1304.6,816.0 L1305.9,814.4 L1307.3,812.8 L1308.6,811.2 L1310.0,809.7 L1311.4,808.3 L1312.9,806.8 L1314.4,805.5 L1316.0,804.2 L1317.6,803.0 L1319.2,801.8 L1320.9,800.8 L1322.6,799.9 L1324.3,799.0 L1326.1,798.3 L1328.0,797.7 L1329.9,797.2 L1331.8,796.8 L1333.7,796.6 L1335.7,796.4 L1337.6,796.3 L1339.6,796.4 L1341.6,796.6 L1343.5,796.9 L1345.5,797.3 L1347.4,797.8 L1349.3,798.4 L1351.2,799.1 L1353.0,799.8 L1354.8,800.7 L1356.6,801.6 L1358.4,802.6 L1360.2,803.6 L1361.9,804.7 L1363.7,805.7 L1365.4,806.8 L1367.1,807.9 L1368.7,808.9 L1370.4,809.9 L1372.0,810.9 L1373.7,811.9 L1375.3,812.9 L1377.0,813.9 L1378.7,814.9 L1380.4,815.9 L1382.1,816.9 L1383.9,818.0 L1385.7,819.1 L1387.5,820.1 L1389.3,821.2 L1391.2,822.2 L1393.1,823.3 L1395.0,824.2 L1396.9,825.1 L1398.8,826.0 L1400.7,826.7 L1402.6,827.4 L1404.6,827.9 L1406.5,828.4 L1408.4,828.8 L1410.3,829.0 L1412.2,829.2 L1414.1,829.3 L1416.1,829.2 L1417.9,829.1 L1419.8,828.9 L1421.7,828.7 L1423.6,828.3 L1425.5,827.9 L1427.3,827.4 L1429.2,826.8 L1431.0,826.2 L1432.8,825.5 L1434.6,824.7 L1436.4,823.9 L1438.2,823.0 L1440.0,822.1 L1441.8,821.1 L1443.5,820.1 L1445.2,819.0 L1446.9,817.9 L1448.6,816.8 L1450.3,815.6 L1452.0,814.4 L1453.6,813.1 L1455.2,811.9 L1456.8,810.6 L1458.4,809.3 L1460.0,808.0 L1461.5,806.7 L1463.0,805.3 L1464.5,804.0 L1466.0,802.6 L1467.5,801.3 L1468.9,799.9 L1470.3,798.5 L1471.7,797.1 L1473.1,795.7 L1474.5,794.3 L1475.9,792.8 L1477.3,791.4 L1478.6,790.0 L1480.0,788.5 L1481.3,787.1 L1482.7,785.6 L1484.0,784.2 L1485.3,782.7 L1486.7,781.2 L1488.0,779.8 L1489.3,778.3 L1490.6,776.8 L1492.0,775.4 L1493.3,773.9 L1494.6,772.4 L1496.0,771.0 L1497.3,769.5 L1498.7,768.0 L1500.0,766.6 L1501.4,765.1 L1502.8,763.7 L1504.2,762.2 L1505.6,760.8 L1507.0,759.3 L1508.4,757.9 L1509.8,756.5 L1511.2,755.1 L1512.7,753.6 L1514.1,752.3 L1515.6,750.9 L1517.1,749.5 L1518.6,748.1 L1520.1,746.8 L1521.6,745.4 L1523.1,744.1 L1524.6,742.8 L1526.2,741.5 L1527.7,740.2 L1529.3,739.0 L1530.8,737.7 L1532.4,736.5 L1534.0,735.3 L1535.6,734.1 L1537.3,732.9 L1538.9,731.8 L1540.5,730.7 L1542.2,729.5 L1543.9,728.5 L1545.6,727.4 L1547.3,726.4 L1549.0,725.4 L1550.7,724.4 L1552.5,723.5 L1554.3,722.7 L1556.1,722.0 L1557.9,721.3 L1559.8,720.7 L1561.7,720.2 L1563.6,719.9 L1565.6,719.5 L1567.6,719.3 L1569.6,719.1 L1571.6,719.0 L1573.6,719.0 L1575.6,718.9 L1577.7,718.9 L1579.7,719.0 L1581.8,719.0 L1583.8,719.1 L1585.8,719.2 L1587.8,719.4 L1589.8,719.6 L1591.8,719.8 L1593.8,720.1 L1595.8,720.4 L1597.7,720.9 L1599.6,721.4 L1601.5,721.9 L1603.3,722.6 L1605.1,723.3 L1606.9,724.1 L1608.7,724.9 L1610.4,725.8 L1612.1,726.8 L1613.8,727.8 L1615.5,728.9 L1617.1,730.0 L1618.7,731.1 L1620.3,732.3 L1621.9,733.6 L1623.5,734.9 L1625.0,736.2 L1626.6,737.5 L1628.1,738.8 L1629.6,740.2 L1631.1,741.6 L1632.6,742.9 L1634.1,744.3 L1635.6,745.7 L1637.1,747.1 L1638.5,748.5 L1640.0,749.9 L1641.5,751.3 L1642.9,752.7 L1644.4,754.0 L1645.9,755.4 L1647.3,756.7 L1648.8,758.1 L1650.2,759.4 L1651.6,760.8 L1653.1,762.1 L1654.5,763.5 L1655.9,764.9 L1657.3,766.3 L1658.6,767.7 L1660.0,769.1 L1661.3,770.6 L1662.7,772.1 L1664.0,773.6 L1665.3,775.1 L1666.6,776.6 L1667.8,778.2 L1669.1,779.7 L1670.4,781.3 L1671.7,782.8 L1673.0,784.4 L1674.3,785.9 L1675.7,787.4 L1677.0,788.9 L1678.4,790.4 L1679.8,791.8 L1681.2,793.2 L1682.7,794.5 L1684.2,795.8 L1685.8,797.1 L1687.4,798.3 L1689.0,799.4 L1690.7,800.5 L1692.4,801.5 L1694.2,802.5 L1696.0,803.4 L1697.8,804.3 L1699.6,805.1 L1701.5,805.8 L1703.4,806.5 L1705.3,807.0 L1707.2,807.6 L1709.2,808.0 L1711.1,808.4 L1713.1,808.8 L1715.0,809.0 L1717.0,809.2 L1719.0,809.3 L1721.0,809.4 L1722.9,809.3 L1724.9,809.2 L1726.8,809.0 L1728.8,808.8 L1730.8,808.5 L1732.7,808.2 L1734.7,807.8 L1736.6,807.4 L1738.6,806.9 L1740.5,806.4 L1742.5,805.9 L1744.4,805.4 L1746.4,804.8 L1748.3,804.2 L1750.2,803.6 L1752.2,803.0 L1754.1,802.4 L1756.0,801.8 L1758.0,801.2 L1759.9,800.6 L1761.8,800.0 L1763.8,799.4 L1765.7,798.8 L1767.6,798.2 L1769.5,797.6 L1771.5,797.1 L1773.4,796.5 L1775.3,796.0 L1777.2,795.4 L1779.1,794.9 L1781.1,794.3 L1783.0,793.8 L1784.9,793.3 L1786.8,792.7 L1788.7,792.2 L1790.6,791.7 L1792.6,791.1 L1794.5,790.6 L1796.4,790.1 L1798.3,789.6 L1800.2,789.0 L1802.1,788.5 L1804.1,788.0 L1806.0,787.4 L1807.9,786.9 L1809.8,786.4 L1811.7,785.9 L1813.6,785.3 L1815.5,784.8 L1817.5,784.2 L1819.4,783.7 L1821.3,783.1 L1823.2,782.6 L1825.1,782.0 L1827.0,781.5 L1829.0,780.9 L1830.9,780.3 L1832.8,779.7 L1834.7,779.1 L1836.6,778.5 L1838.6,777.9 L1840.5,777.3 L1842.4,776.7 L1844.3,776.1 L1846.2,775.4 L1848.1,774.7 L1850.0,774.0 L1851.8,773.3 L1853.7,772.6 L1855.6,771.8 L1857.4,771.0 L1859.2,770.2 L1861.0,769.4 L1862.8,768.5 L1864.5,767.6 L1866.3,766.6 L1868.0,765.7 L1869.7,764.7 L1871.3,763.6 L1873.0,762.5 L1874.6,761.4 L1876.2,760.2 L1877.7,759.0 L1879.2,757.7 L1880.8,756.4 L1882.2,755.1 L1883.7,753.8 L1885.1,752.4 L1886.6,751.0 L1888.0,749.6 L1889.4,748.1 L1890.7,746.7 L1892.1,745.2 L1893.5,743.7 L1894.8,742.2 L1896.1,740.7 L1897.5,739.1 L1898.8,737.6 L1900.1,736.1 L1901.5,734.5 L1902.8,733.0 L1904.1,731.4 L1905.4,729.9 L1906.7,728.4 L1908.1,726.9 L1909.4,725.3 L1910.8,723.9 L1912.1,722.4 L1913.5,720.9 L1914.9,719.5 L1916.3,718.0 L1917.7,716.6 L1919.1,715.2 L1920.6,713.9 L1922.0,712.6 L1923.5,711.3 L1925.0,710.0" stroke="#009E73" stroke-width="15"/>
<path d="M360.0,210.0 L361.8,210.2 L363.8,210.1 L365.9,209.9 L368.1,209.6 L370.3,209.4 L372.5,209.2 L374.5,209.3 L376.5,209.6 L378.2,210.2 L379.8,211.2 L381.3,212.3 L382.7,213.7 L383.9,215.2 L385.1,216.7 L386.3,218.3 L387.4,219.9 L388.4,221.6 L389.4,223.3 L390.3,225.0 L391.3,226.7 L392.1,228.5 L392.9,230.3 L393.7,232.1 L394.5,233.9 L395.2,235.7 L395.9,237.6 L396.6,239.4 L397.2,241.3 L397.8,243.2 L398.4,245.1 L399.0,247.0 L399.6,249.0 L400.1,250.9 L400.6,252.9 L401.2,254.8 L401.7,256.8 L402.2,258.7 L402.7,260.7 L403.2,262.6 L403.7,264.6 L404.2,266.5 L404.7,268.5 L405.1,270.5 L405.6,272.4 L406.1,274.4 L406.6,276.3 L407.1,278.3 L407.5,280.2 L408.0,282.2 L408.5,284.1 L408.9,286.1 L409.4,288.1 L409.9,290.0 L410.3,292.0 L410.8,293.9 L411.2,295.9 L411.7,297.8 L412.2,299.8 L412.6,301.7 L413.0,303.7 L413.5,305.6 L413.9,307.6 L414.4,309.5 L414.8,311.5 L415.3,313.4 L415.7,315.4 L416.1,317.3 L416.6,319.3 L417.0,321.2 L417.4,323.2 L417.9,325.1 L418.3,327.1 L418.7,329.0 L419.1,331.0 L419.6,332.9 L420.0,334.9 L420.4,336.8 L420.8,338.8 L421.2,340.8 L421.6,342.7 L422.1,344.7 L422.5,346.6 L422.9,348.6 L423.3,350.5 L423.7,352.5 L424.1,354.4 L424.5,356.4 L424.9,358.3 L425.3,360.3 L425.7,362.2 L426.1,364.2 L426.5,366.1 L426.9,368.1 L427.3,370.0 L427.7,372.0 L428.1,373.9 L428.5,375.9 L428.9,377.8 L429.3,379.8 L429.7,381.8 L430.1,383.7 L430.4,385.7 L430.8,387.6 L431.2,389.6 L431.6,391.5 L432.0,393.5 L432.4,395.4 L432.8,397.4 L433.1,399.4 L433.5,401.3 L433.9,403.3 L434.3,405.2 L434.7,407.2 L435.1,409.1 L435.4,411.1 L435.8,413.1 L436.2,415.0 L436.6,417.0 L437.0,418.9 L437.3,420.9 L437.7,422.9 L438.1,424.8 L438.5,426.8 L438.8,428.7 L439.2,430.7 L439.6,432.7 L440.0,434.6 L440.4,436.6 L440.7,438.5 L441.1,440.5 L441.5,442.5 L441.8,444.4 L442.2,446.4 L442.6,448.4 L443.0,450.3 L443.3,452.3 L443.7,454.2 L444.1,456.2 L444.5,458.2 L444.8,460.1 L445.2,462.1 L445.6,464.1 L445.9,466.0 L446.3,468.0 L446.7,470.0 L447.1,471.9 L447.4,473.9 L447.8,475.8 L448.2,477.8 L448.5,479.8 L448.9,481.7 L449.3,483.7 L449.7,485.7 L450.0,487.6 L450.4,489.6 L450.8,491.6 L451.1,493.5 L451.5,495.5 L451.9,497.5 L452.3,499.4 L452.6,501.4 L453.0,503.4 L453.4,505.3 L453.8,507.3 L454.1,509.3 L454.5,511.2 L454.9,513.2 L455.2,515.1 L455.6,517.1 L456.0,519.1 L456.4,521.0 L456.7,523.0 L457.1,525.0 L457.5,526.9 L457.9,528.9 L458.2,530.9 L458.6,532.8 L459.0,534.8 L459.4,536.8 L459.7,538.7 L460.1,540.7 L460.5,542.7 L460.9,544.6 L461.3,546.6 L461.6,548.6 L462.0,550.5 L462.4,552.5 L462.8,554.4 L463.2,556.4 L463.6,558.4 L463.9,560.3 L464.3,562.3 L464.7,564.3 L465.1,566.2 L465.5,568.2 L465.9,570.2 L466.2,572.1 L466.6,574.1 L467.0,576.0 L467.4,578.0 L467.8,580.0 L468.2,581.9 L468.6,583.9 L469.0,585.9 L469.4,587.8 L469.8,589.8 L470.2,591.7 L470.6,593.7 L470.9,595.7 L471.3,597.6 L471.7,599.6 L472.1,601.5 L472.5,603.5 L472.9,605.5 L473.3,607.4 L473.7,609.4 L474.1,611.3 L474.6,613.3 L475.0,615.3 L475.4,617.2 L475.8,619.2 L476.2,621.1 L476.6,623.1 L477.0,625.0 L477.4,627.0 L477.8,629.0 L478.2,630.9 L478.7,632.9 L479.1,634.8 L479.5,636.8 L479.9,638.7 L480.3,640.7 L480.8,642.6 L481.2,644.6 L481.6,646.6 L482.0,648.5 L482.4,650.5 L482.9,652.4 L483.3,654.4 L483.7,656.3 L484.2,658.3 L484.6,660.2 L485.0,662.2 L485.5,664.1 L485.9,666.1 L486.3,668.0 L486.8,670.0 L487.2,671.9 L487.7,673.9 L488.1,675.8 L488.6,677.8 L489.0,679.7 L489.5,681.6 L489.9,683.6 L490.4,685.5 L490.8,687.5 L491.3,689.4 L491.7,691.4 L492.2,693.3 L492.6,695.3 L493.1,697.2 L493.6,699.1 L494.0,701.1 L494.5,703.0 L495.0,705.0 L495.4,706.9 L495.9,708.8 L496.4,710.8 L496.8,712.7 L497.3,714.7 L497.8,716.6 L498.3,718.5 L498.8,720.5 L499.2,722.4 L499.7,724.3 L500.2,726.3 L500.7,728.2 L501.2,730.1 L501.7,732.1 L502.2,734.0 L502.7,735.9 L503.2,737.9 L503.7,739.8 L504.2,741.7 L504.7,743.6 L505.2,745.6 L505.7,747.5 L506.2,749.4 L506.7,751.4 L507.3,753.3 L507.8,755.2 L508.3,757.1 L508.8,759.1 L509.3,761.0 L509.9,762.9 L510.4,764.8 L510.9,766.7 L511.5,768.7 L512.0,770.6 L512.6,772.5 L513.1,774.4 L513.7,776.3 L514.2,778.2 L514.8,780.2 L515.4,782.1 L515.9,784.0 L516.5,785.9 L517.1,787.8 L517.7,789.7 L518.3,791.6 L518.9,793.5 L519.5,795.4 L520.1,797.3 L520.7,799.2 L521.3,801.2 L521.9,803.1 L522.5,805.0 L523.2,806.9 L523.8,808.8 L524.4,810.7 L525.1,812.6 L525.7,814.5 L526.4,816.3 L527.1,818.2 L527.7,820.1 L528.4,822.0 L529.1,823.9 L529.8,825.8 L530.5,827.7 L531.2,829.6 L531.9,831.5 L532.6,833.3 L533.4,835.2 L534.1,837.1 L534.8,839.0 L535.6,840.8 L536.4,842.7 L537.1,844.5 L537.9,846.4 L538.7,848.2 L539.5,850.1 L540.3,851.9 L541.1,853.7 L541.9,855.6 L542.8,857.4 L543.6,859.2 L544.5,861.0 L545.4,862.8 L546.3,864.6 L547.2,866.4 L548.1,868.2 L549.0,870.0 L549.9,871.7 L550.9,873.5 L551.8,875.2 L552.8,877.0 L553.8,878.7 L554.8,880.4 L555.8,882.1 L556.8,883.8 L557.8,885.5 L558.9,887.2 L560.0,888.9 L561.0,890.6 L562.1,892.2 L563.2,893.9 L564.4,895.5 L565.5,897.1 L566.7,898.7 L567.8,900.3 L569.0,901.9 L570.2,903.5 L571.4,905.1 L572.7,906.6 L573.9,908.2 L575.2,909.7 L576.4,911.3 L577.7,912.8 L579.0,914.3 L580.3,915.8 L581.6,917.3 L582.9,918.8 L584.3,920.3 L585.6,921.8 L586.9,923.3 L588.3,924.7 L589.7,926.2 L591.0,927.7 L592.4,929.1 L593.8,930.6 L595.2,932.0 L596.6,933.4 L598.0,934.9 L599.4,936.3 L600.8,937.7 L602.2,939.1 L603.7,940.5 L605.1,942.0 L606.5,943.4 L608.0,944.8 L609.4,946.2 L610.9,947.6 L612.3,949.0 L613.7,950.4 L615.2,951.8 L616.6,953.2 L618.1,954.5 L619.5,955.9 L621.0,957.3 L622.4,958.7 L623.9,960.1 L625.3,961.5 L626.8,962.9 L628.2,964.3 L629.7,965.7 L631.1,967.1 L632.6,968.5 L634.0,969.9 L635.4,971.3 L636.9,972.7 L638.3,974.1 L639.7,975.5 L641.2,976.9 L642.6,978.3 L644.0,979.7 L645.4,981.1 L646.8,982.5 L648.3,983.9 L649.7,985.3 L651.1,986.7 L652.5,988.1 L653.9,989.5 L655.3,990.9 L656.7,992.3 L658.1,993.7 L659.5,995.1 L660.9,996.6 L662.4,998.0 L663.8,999.4 L665.2,1000.8 L666.6,1002.2 L668.0,1003.6 L669.4,1005.0 L670.7,1006.5 L672.1,1007.9 L673.5,1009.3 L674.9,1010.7 L676.3,1012.1 L677.7,1013.6 L679.1,1015.0 L680.5,1016.4 L681.9,1017.8 L683.3,1019.2 L684.7,1020.7 L686.1,1022.1 L687.5,1023.5 L688.9,1024.9 L690.2,1026.4 L691.6,1027.8 L693.0,1029.2 L694.4,1030.6 L695.8,1032.1 L697.2,1033.5 L698.6,1034.9 L700.0,1036.4 L701.4,1037.8 L702.8,1039.2 L704.2,1040.6 L705.5,1042.1 L706.9,1043.5 L708.3,1044.9 L709.7,1046.4 L711.1,1047.8 L712.5,1049.2 L713.9,1050.6 L715.3,1052.1 L716.7,1053.5 L718.1,1054.9 L719.5,1056.4 L720.9,1057.8 L722.3,1059.2 L723.7,1060.7 L725.1,1062.1 L726.5,1063.5 L727.9,1064.9 L729.3,1066.4 L730.7,1067.8 L732.1,1069.2 L733.6,1070.7 L735.0,1072.1 L736.4,1073.5 L737.8,1075.0 L739.2,1076.4 L740.6,1077.8 L742.1,1079.2 L743.5,1080.6 L744.9,1082.1 L746.4,1083.5 L747.8,1084.9 L749.2,1086.3 L750.7,1087.7 L752.1,1089.1 L753.6,1090.5 L755.0,1091.9 L756.5,1093.2 L758.0,1094.6 L759.4,1096.0 L760.9,1097.3 L762.4,1098.7 L763.9,1100.0 L765.4,1101.4 L766.9,1102.7 L768.4,1104.0 L769.9,1105.3 L771.4,1106.6 L772.9,1107.9 L774.5,1109.2 L776.0,1110.5 L777.6,1111.8 L779.1,1113.0 L780.7,1114.3 L782.3,1115.5 L783.8,1116.7 L785.4,1117.9 L787.0,1119.1 L788.6,1120.3 L790.2,1121.5 L791.8,1122.7 L793.5,1123.8 L795.1,1124.9 L796.7,1126.1 L798.4,1127.2 L800.0,1128.3 L801.7,1129.4 L803.3,1130.5 L805.0,1131.6 L806.7,1132.7 L808.4,1133.7 L810.0,1134.8 L811.7,1135.8 L813.4,1136.9 L815.1,1137.9 L816.9,1138.9 L818.6,1139.9 L820.3,1140.9 L822.0,1141.9 L823.8,1142.9 L825.5,1143.8 L827.3,1144.8 L829.0,1145.7 L830.8,1146.7 L832.5,1147.6 L834.3,1148.5 L836.1,1149.4 L837.9,1150.6 L839.7,1151.6 L841.5,1152.5 L843.3,1153.4 L845.1,1154.3 L846.9,1155.2 L848.7,1156.0 L850.5,1156.8 L852.3,1157.6 L854.2,1158.4 L856.0,1159.1 L857.9,1159.9 L859.7,1160.6 L861.6,1161.2 L863.5,1161.9 L865.4,1162.5 L867.3,1163.0 L869.2,1163.6 L871.1,1164.1 L873.0,1164.6 L875.0,1165.1 L876.9,1165.5 L878.8,1166.0 L880.8,1166.5 L882.7,1167.0 L884.6,1167.5 L886.6,1168.0 L888.5,1168.6 L890.4,1169.2 L892.3,1169.9 L894.2,1170.6 L896.0,1171.3 L897.9,1172.1 L899.7,1172.9 L901.5,1173.8 L903.3,1174.7 L905.1,1175.6 L906.9,1176.5 L908.7,1177.5 L910.4,1178.4 L912.1,1179.4 L913.9,1180.4 L915.5,1181.4 L917.2,1182.4 L918.9,1183.5 L920.5,1184.5 L922.2,1185.6 L923.8,1186.7 L925.4,1187.9 L927.0,1189.0 L928.5,1190.2 L930.1,1191.4 L931.7,1192.6 L933.2,1193.9 L934.7,1195.2 L936.3,1196.5 L937.8,1197.9 L939.3,1199.3 L940.8,1200.6 L942.3,1202.0 L943.8,1203.4 L945.3,1204.9 L946.8,1206.3 L948.3,1207.7 L949.8,1209.1 L951.3,1210.5 L952.8,1211.9 L954.3,1213.3 L955.8,1214.7 L957.4,1216.0 L958.9,1217.4 L960.5,1218.7 L962.0,1220.0 L963.6,1221.2 L965.2,1222.4 L966.8,1223.6 L968.4,1224.8 L970.1,1225.9 L971.7,1227.0 L973.4,1228.0 L975.1,1228.9 L976.9,1229.8 L978.6,1230.7 L980.4,1231.5 L982.2,1232.2 L984.1,1232.9 L985.9,1233.5 L987.8,1234.0 L989.8,1234.5 L991.7,1234.8 L993.7,1235.1 L995.7,1235.3 L997.6,1235.4 L999.6,1235.4 L1001.6,1235.2 L1003.5,1235.0 L1005.4,1234.6 L1007.3,1234.1 L1009.1,1233.5 L1010.9,1232.7 L1012.6,1231.8 L1014.2,1230.7 L1015.8,1229.5 L1017.3,1228.2 L1018.8,1226.8 L1020.2,1225.2 L1021.5,1223.6 L1022.8,1222.0 L1024.1,1220.3 L1025.3,1218.6 L1026.5,1216.9 L1027.7,1215.1 L1028.8,1213.4 L1029.9,1211.6 L1031.0,1209.9 L1032.1,1208.1 L1033.1,1206.4 L1034.1,1204.6 L1035.0,1202.8 L1036.0,1201.0 L1036.9,1199.3 L1037.8,1197.5 L1038.7,1195.7 L1039.5,1193.9 L1040.4,1192.1 L1041.2,1190.3 L1042.0,1188.4 L1042.8,1186.6 L1043.6,1184.8 L1044.4,1183.0 L1045.1,1181.1 L1045.9,1179.3 L1046.6,1177.5 L1047.3,1175.6 L1048.0,1173.8 L1048.7,1171.9 L1049.4,1170.1 L1050.1,1168.2 L1050.8,1166.4 L1051.5,1164.5 L1052.2,1162.7 L1052.9,1160.8 L1053.6,1158.9 L1054.3,1157.1 L1055.0,1155.2 L1055.6,1153.3 L1056.3,1151.5 L1057.0,1149.6 L1057.6,1147.7 L1058.3,1145.8 L1059.0,1144.0 L1059.6,1142.1 L1060.3,1140.2 L1060.9,1138.3 L1061.6,1136.4 L1062.2,1134.5 L1062.8,1132.6 L1063.5,1130.7 L1064.1,1128.8 L1064.7,1126.9 L1065.3,1125.0 L1066.0,1123.1 L1066.6,1121.2 L1067.2,1119.3 L1067.8,1117.4 L1068.4,1115.5 L1069.0,1113.6 L1069.6,1111.7 L1070.2,1109.8 L1070.8,1107.9 L1071.4,1105.9 L1071.9,1104.0 L1072.5,1102.1 L1073.1,1100.2 L1073.6,1098.2 L1074.2,1096.3 L1074.8,1094.4 L1075.3,1092.5 L1075.9,1090.5 L1076.4,1088.6 L1076.9,1086.7 L1077.5,1084.7 L1078.0,1082.8 L1078.5,1080.9 L1079.0,1078.9 L1079.6,1077.0 L1080.1,1075.1 L1080.6,1073.1 L1081.1,1071.2 L1081.6,1069.2 L1082.1,1067.3 L1082.5,1065.3 L1083.0,1063.4 L1083.5,1061.4 L1084.0,1059.5 L1084.4,1057.5 L1084.9,1055.6 L1085.4,1053.6 L1085.8,1051.7 L1086.2,1049.7 L1086.7,1047.8 L1087.1,1045.8 L1087.5,1043.9 L1088.0,1041.9 L1088.4,1039.9 L1088.8,1038.0 L1089.2,1036.0 L1089.6,1034.1 L1090.0,1032.1 L1090.4,1030.1 L1090.8,1028.2 L1091.2,1026.2 L1091.5,1024.3 L1091.9,1022.3 L1092.3,1020.3 L1092.7,1018.4 L1093.0,1016.4 L1093.4,1014.4 L1093.8,1012.5 L1094.1,1010.5 L1094.5,1008.5 L1094.8,1006.6 L1095.2,1004.6 L1095.5,1002.7 L1095.9,1000.7 L1096.3,998.7 L1096.6,996.8 L1097.0,994.8 L1097.3,992.8 L1097.7,990.9 L1098.0,988.9 L1098.4,986.9 L1098.8,985.0 L1099.1,983.0 L1099.5,981.1 L1099.9,979.1 L1100.2,977.1 L1100.6,975.2 L1101.0,973.2 L1101.4,971.3 L1101.8,969.3 L1102.2,967.3 L1102.6,965.4 L1103.0,963.4 L1103.4,961.5 L1103.8,959.5 L1104.2,957.6 L1104.6,955.6 L1105.1,953.7 L1105.5,951.7 L1105.9,949.8 L1106.4,947.9 L1106.8,945.9 L1107.3,944.0 L1107.8,942.0 L1108.3,940.1 L1108.8,938.2 L1109.3,936.2 L1109.8,934.3 L1110.3,932.4 L1110.8,930.4 L1111.3,928.5 L1111.9,926.6 L1112.4,924.6 L1113.0,922.7 L1113.5,920.8 L1114.1,918.9 L1114.6,916.9 L1115.2,915.0 L1115.7,913.1 L1116.3,911.2 L1116.8,909.2 L1117.4,907.3 L1117.9,905.4 L1118.5,903.5 L1119.0,901.5 L1119.5,899.6 L1120.1,897.7 L1120.6,895.7 L1121.1,893.8 L1121.6,891.9 L1122.1,889.9 L1122.6,888.0 L1123.1,886.0 L1123.6,884.1 L1124.1,882.1 L1124.6,880.2 L1125.1,878.3 L1125.6,876.3 L1126.0,874.4 L1126.5,872.4 L1127.0,870.5 L1127.5,868.5 L1128.0,866.6 L1128.4,864.6 L1128.9,862.7 L1129.4,860.8 L1129.9,858.8 L1130.3,856.9 L1130.8,854.9 L1131.3,853.0 L1131.8,851.0 L1132.3,849.1 L1132.8,847.2 L1133.3,845.2 L1133.7,843.3 L1134.2,841.4 L1134.7,839.4 L1135.2,837.5 L1135.8,835.6 L1136.3,833.6 L1136.8,831.7 L1137.3,829.8 L1137.8,827.8 L1138.4,825.9 L1138.9,824.0 L1139.5,822.1 L1140.0,820.2 L1140.6,818.2 L1141.2,816.3 L1141.7,814.4 L1142.3,812.5 L1142.9,810.6 L1143.5,808.7 L1144.1,806.8 L1144.8,804.9 L1145.4,803.0 L1146.0,801.1 L1146.7,799.2 L1147.4,797.4 L1148.0,795.5 L1148.7,793.6 L1149.4,791.7 L1150.1,789.9 L1150.9,788.0 L1151.6,786.1 L1152.3,784.3 L1153.1,782.4 L1153.9,780.6 L1154.7,778.7 L1155.5,776.9 L1156.3,775.1 L1157.1,773.2 L1157.9,771.4 L1158.8,769.6 L1159.7,767.8 L1160.6,766.0 L1161.5,764.2 L1162.5,762.4 L1163.5,760.7 L1164.5,759.0 L1165.5,757.3 L1166.6,755.6 L1167.7,754.0 L1168.9,752.3 L1170.1,750.8 L1171.3,749.2 L1172.6,747.7 L1173.9,746.2 L1175.3,744.8 L1176.7,743.4 L1178.2,742.1 L1179.7,740.8 L1181.3,739.6 L1183.0,738.4 L1184.7,737.3 L1186.4,736.2 L1188.2,735.2 L1190.1,734.4 L1192.0,733.6 L1193.9,732.9 L1195.8,732.3 L1197.8,731.9 L1199.7,731.6 L1201.7,731.4 L1203.7,731.3 L1205.7,731.3 L1207.6,731.4 L1209.6,731.7 L1211.5,732.0 L1213.4,732.4 L1215.3,732.9 L1217.1,733.5 L1218.9,734.2 L1220.7,735.0 L1222.5,735.8 L1224.2,736.7 L1226.0,737.7 L1227.7,738.7 L1229.4,739.7 L1231.1,740.8 L1232.8,741.9 L1234.5,743.0 L1236.2,744.1 L1238.0,745.3 L1239.7,746.5 L1241.4,747.7 L1243.1,748.8 L1244.8,750.0 L1246.5,751.2 L1248.3,752.3 L1250.0,753.5 L1251.8,754.6 L1253.5,755.7 L1255.3,756.8 L1257.0,757.8 L1258.8,758.8 L1260.6,759.7 L1262.4,760.6 L1264.2,761.4 L1266.0,762.2 L1267.8,762.9 L1269.7,763.6 L1271.5,764.2 L1273.4,764.7 L1275.3,765.1 L1277.2,765.4 L1279.1,765.7 L1281.0,765.8 L1283.0,765.9 L1284.9,765.9 L1286.9,765.8 L1288.8,765.6 L1290.8,765.4 L1292.7,765.0 L1294.7,764.7 L1296.6,764.2 L1298.5,763.7 L1300.5,763.1 L1302.4,762.4 L1304.3,761.7 L1306.1,761.0 L1308.0,760.2 L1309.8,759.3 L1311.6,758.4 L1313.4,757.4 L1315.2,756.4 L1316.9,755.4 L1318.6,754.3 L1320.3,753.2 L1321.9,752.0 L1323.6,750.9 L1325.2,749.6 L1326.8,748.4 L1328.3,747.2 L1329.9,745.9 L1331.4,744.6 L1332.9,743.3 L1334.4,741.9 L1335.9,740.6 L1337.4,739.2 L1338.8,737.9 L1340.3,736.5 L1341.7,735.1 L1343.2,733.7 L1344.6,732.3 L1346.0,730.9 L1347.4,729.5 L1348.8,728.1 L1350.2,726.7 L1351.6,725.3 L1352.9,723.8 L1354.3,722.4 L1355.7,721.0 L1357.1,719.6 L1358.5,718.1 L1359.9,716.7 L1361.3,715.3 L1362.6,713.9 L1364.0,712.4 L1365.4,711.0 L1366.9,709.6 L1368.3,708.2 L1369.7,706.8 L1371.1,705.4 L1372.6,704.0 L1374.1,702.6 L1375.5,701.3 L1377.0,699.9 L1378.5,698.5 L1380.0,697.2 L1381.6,695.9 L1383.1,694.6 L1384.7,693.3 L1386.3,692.0 L1387.9,690.8 L1389.5,689.6 L1391.2,688.5 L1392.9,687.4 L1394.6,686.4 L1396.3,685.5 L1398.1,684.6 L1399.9,683.9 L1401.7,683.2 L1403.6,682.6 L1405.5,682.2 L1407.4,681.8 L1409.4,681.4 L1411.3,681.2 L1413.3,680.9 L1415.3,680.8 L1417.3,680.6 L1419.3,680.4 L1421.3,680.3 L1423.4,680.1 L1425.4,679.9 L1427.4,679.6 L1429.4,679.4 L1431.4,679.1 L1433.4,678.7 L1435.4,678.4 L1437.4,678.0 L1439.4,677.6 L1441.4,677.3 L1443.4,676.9 L1445.4,676.5 L1447.4,676.1 L1449.4,675.7 L1451.4,675.3 L1453.4,674.9 L1455.3,674.5 L1457.3,674.1 L1459.3,673.8 L1461.3,673.4 L1463.2,673.1 L1465.2,672.9 L1467.2,672.6 L1469.1,672.4 L1471.1,672.2 L1473.1,672.1 L1475.1,672.0 L1477.0,671.9 L1479.0,671.9 L1481.0,671.9 L1482.9,672.0 L1484.9,672.2 L1486.8,672.4 L1488.8,672.7 L1490.8,673.0 L1492.7,673.3 L1494.7,673.7 L1496.6,674.2 L1498.5,674.6 L1500.5,675.2 L1502.4,675.7 L1504.3,676.4 L1506.2,677.0 L1508.1,677.7 L1509.9,678.4 L1511.8,679.2 L1513.7,680.0 L1515.5,680.8 L1517.3,681.7 L1519.1,682.5 L1520.9,683.4 L1522.7,684.4 L1524.5,685.3 L1526.2,686.3 L1528.0,687.3 L1529.8,688.2 L1531.5,689.2 L1533.3,690.2 L1535.0,691.2 L1536.8,692.2 L1538.5,693.2 L1540.3,694.2 L1542.0,695.2 L1543.8,696.2 L1545.5,697.1 L1547.3,698.1 L1549.1,699.0 L1550.8,699.9 L1552.6,700.7 L1554.4,701.6 L1556.3,702.4 L1558.1,703.2 L1559.9,703.9 L1561.8,704.6 L1563.7,705.3 L1565.5,705.9 L1567.5,706.5 L1569.4,707.0 L1571.3,707.4 L1573.3,707.8 L1575.3,708.2 L1577.3,708.4 L1579.3,708.6 L1581.3,708.6 L1583.3,708.6 L1585.2,708.4 L1587.2,708.0 L1589.1,707.6 L1591.0,707.1 L1592.9,706.5 L1594.8,705.8 L1596.6,705.1 L1598.5,704.3 L1600.3,703.5 L1602.2,702.6 L1604.0,701.7 L1605.8,700.8 L1607.6,699.9 L1609.4,698.9 L1611.1,697.9 L1612.8,696.9 L1614.6,695.9 L1616.2,694.8 L1617.9,693.6 L1619.5,692.5 L1621.2,691.3 L1622.8,690.2 L1624.4,689.0 L1626.0,687.8 L1627.7,686.6 L1629.3,685.4 L1630.9,684.3 L1632.5,683.1 L1634.2,681.9 L1635.8,680.8 L1637.5,679.7 L1639.1,678.6 L1640.8,677.6 L1642.6,676.6 L1644.3,675.6 L1646.1,674.7 L1647.9,673.8 L1649.8,673.0 L1651.6,672.2 L1653.6,671.5 L1655.5,670.9 L1657.5,670.3 L1659.5,669.9 L1661.4,669.5 L1663.4,669.2 L1665.4,669.1 L1667.4,669.0 L1669.3,669.1 L1671.2,669.3 L1673.1,669.6 L1675.0,670.1 L1676.7,670.7 L1678.5,671.4 L1680.2,672.3 L1681.9,673.3 L1683.5,674.3 L1685.1,675.5 L1686.6,676.7 L1688.1,678.1 L1689.6,679.4 L1691.1,680.9 L1692.5,682.4 L1693.8,684.0 L1695.2,685.6 L1696.5,687.2 L1697.8,688.8 L1699.0,690.5 L1700.2,692.2 L1701.4,693.9 L1702.5,695.5 L1703.6,697.2 L1704.7,699.0 L1705.8,700.7 L1706.8,702.4 L1707.9,704.2 L1708.8,705.9 L1709.8,707.7 L1710.7,709.4 L1711.7,711.2 L1712.6,713.0 L1713.4,714.8 L1714.3,716.6 L1715.1,718.4 L1715.9,720.2 L1716.7,722.1 L1717.5,723.9 L1718.3,725.7 L1719.0,727.6 L1719.7,729.4 L1720.4,731.3 L1721.1,733.1 L1721.8,735.0 L1722.5,736.8 L1723.2,738.7 L1723.8,740.6 L1724.4,742.5 L1725.1,744.4 L1725.7,746.2 L1726.3,748.1 L1726.9,750.0 L1727.5,751.9 L1728.1,753.8 L1728.7,755.7 L1729.3,757.6 L1729.8,759.5 L1730.4,761.5 L1731.0,763.4 L1731.6,765.3 L1732.1,767.2 L1732.7,769.1 L1733.3,771.0 L1733.9,772.9 L1734.4,774.8 L1735.0,776.8 L1735.6,778.7 L1736.2,780.6 L1736.8,782.5 L1737.3,784.4 L1737.9,786.3 L1738.5,788.2 L1739.1,790.1 L1739.7,792.1 L1740.3,794.0 L1740.9,795.9 L1741.5,797.8 L1742.1,799.7 L1742.7,801.6 L1743.3,803.5 L1743.9,805.4 L1744.5,807.3 L1745.1,809.3 L1745.7,811.2 L1746.3,813.1 L1746.9,815.0 L1747.5,816.9 L1748.1,818.8 L1748.7,820.7 L1749.3,822.7 L1749.9,824.6 L1750.5,826.5 L1751.0,828.4 L1751.6,830.3 L1752.2,832.2 L1752.8,834.1 L1753.4,836.1 L1754.0,838.0 L1754.6,839.9 L1755.1,841.8 L1755.7,843.7 L1756.3,845.6 L1756.9,847.6 L1757.4,849.5 L1758.0,851.4 L1758.5,853.3 L1759.1,855.3 L1759.7,857.2 L1760.2,859.1 L1760.8,861.0 L1761.3,862.9 L1761.8,864.9 L1762.4,866.8 L1762.9,868.7 L1763.4,870.7 L1763.9,872.6 L1764.4,874.5 L1765.0,876.4 L1765.5,878.4 L1766.0,880.3 L1766.4,882.2 L1766.9,884.2 L1767.4,886.1 L1767.9,888.1 L1768.4,890.0 L1768.9,891.9 L1769.3,893.9 L1769.8,895.8 L1770.3,897.7 L1770.7,899.7 L1771.2,901.6 L1771.6,903.6 L1772.1,905.5 L1772.5,907.5 L1773.0,909.4 L1773.4,911.3 L1773.9,913.3 L1774.3,915.2 L1774.8,917.2 L1775.2,919.1 L1775.7,921.1 L1776.1,923.0 L1776.6,925.0 L1777.0,926.9 L1777.4,928.9 L1777.9,930.8 L1778.3,932.7 L1778.8,934.7 L1779.2,936.6 L1779.7,938.6 L1780.1,940.5 L1780.6,942.5 L1781.1,944.4 L1781.5,946.4 L1782.0,948.3 L1782.5,950.3 L1782.9,952.2 L1783.4,954.2 L1783.9,956.1 L1784.4,958.1 L1784.8,960.0 L1785.3,961.9 L1785.8,963.9 L1786.3,965.8 L1786.8,967.8 L1787.3,969.7 L1787.8,971.7 L1788.3,973.6 L1788.8,975.5 L1789.4,977.5 L1789.9,979.4 L1790.4,981.3 L1790.9,983.3 L1791.5,985.2 L1792.0,987.1 L1792.6,989.1 L1793.1,991.0 L1793.7,992.9 L1794.2,994.9 L1794.8,996.8 L1795.4,998.7 L1796.0,1000.6 L1796.5,1002.5 L1797.1,1004.5 L1797.7,1006.4 L1798.3,1008.3 L1798.9,1010.2 L1799.5,1012.1 L1800.2,1014.0 L1800.8,1015.9 L1801.4,1017.8 L1802.0,1019.7 L1802.7,1021.6 L1803.3,1023.5 L1804.0,1025.4 L1804.6,1027.3 L1805.3,1029.2 L1806.0,1031.0 L1806.6,1032.9 L1807.3,1034.8 L1808.0,1036.7 L1808.7,1038.5 L1809.4,1040.4 L1810.1,1042.3 L1810.8,1044.1 L1811.6,1046.0 L1812.3,1047.8 L1813.0,1049.7 L1813.8,1051.5 L1814.5,1053.4 L1815.3,1055.2 L1816.1,1057.0 L1816.9,1058.8 L1817.6,1060.7 L1818.4,1062.5 L1819.2,1064.3 L1820.0,1066.1 L1820.9,1067.9 L1821.7,1069.7 L1822.5,1071.5 L1823.4,1073.3 L1824.2,1075.1 L1825.1,1076.9 L1825.9,1078.7 L1826.8,1080.5 L1827.7,1082.3 L1828.5,1084.1 L1829.4,1085.8 L1830.3,1087.6 L1831.3,1089.4 L1832.2,1091.2 L1833.1,1092.9 L1834.0,1094.7 L1835.0,1096.5 L1835.9,1098.3 L1836.9,1100.0 L1837.8,1101.8 L1838.8,1103.6 L1839.8,1105.4 L1840.8,1107.1 L1841.8,1108.9 L1842.8,1110.7 L1843.8,1112.5 L1844.8,1114.2 L1845.8,1116.0 L1846.8,1117.8 L1847.9,1119.5 L1849.0,1121.3 L1850.1,1122.9 L1851.3,1124.6 L1852.6,1126.1 L1853.9,1127.6 L1855.4,1129.0 L1856.9,1130.2 L1858.5,1131.4 L1860.2,1132.4 L1862.0,1133.3 L1863.9,1134.0 L1865.8,1134.5 L1867.7,1134.8 L1869.6,1134.9 L1871.5,1134.8 L1873.4,1134.5 L1875.3,1133.9 L1877.1,1133.2 L1878.9,1132.4 L1880.6,1131.3 L1882.3,1130.2 L1884.0,1129.0 L1885.7,1127.7 L1887.3,1126.3 L1889.0,1124.9 L1890.5,1123.5 L1892.1,1122.1 L1893.6,1120.7 L1895.1,1119.3 L1896.6,1117.9 L1898.1,1116.5 L1899.5,1115.1 L1901.0,1113.7 L1902.4,1112.3 L1903.8,1110.9 L1905.2,1109.6 L1906.6,1108.2 L1908.0,1106.9 L1909.5,1105.5 L1910.9,1104.2 L1912.3,1102.8 L1913.7,1101.5 L1915.1,1100.1 L1916.5,1098.7 L1917.9,1097.3 L1919.3,1095.9 L1920.7,1094.5 L1922.2,1093.0 L1923.6,1091.5 L1925.0,1090.0" stroke="#E69F00" stroke-width="15"/>
<path d="M360.0,210.0 L361.8,210.2 L363.8,210.1 L365.9,209.9 L368.1,209.6 L370.3,209.4 L372.5,209.2 L374.5,209.3 L376.5,209.6 L378.2,210.2 L379.8,211.2 L381.3,212.3 L382.7,213.7 L383.9,215.2 L385.1,216.7 L386.3,218.3 L387.4,219.9 L388.4,221.6 L389.4,223.3 L390.3,225.0 L391.3,226.7 L392.1,228.5 L392.9,230.3 L393.7,232.1 L394.5,233.9 L395.2,235.7 L395.9,237.6 L396.6,239.4 L397.2,241.3 L397.8,243.2 L398.4,245.1 L399.0,247.0 L399.6,249.0 L400.1,250.9 L400.6,252.9 L401.2,254.8 L401.7,256.8 L402.2,258.7 L402.7,260.7 L403.2,262.6 L403.7,264.6 L404.2,266.5 L404.7,268.5 L405.1,270.5 L405.6,272.4 L406.1,274.4 L406.6,276.3 L407.1,278.3 L407.5,280.2 L408.0,282.2 L408.5,284.1 L408.9,286.1 L409.4,288.1 L409.9,290.0 L410.3,292.0 L410.8,293.9 L411.2,295.9 L411.7,297.8 L412.2,299.8 L412.6,301.7 L413.0,303.7 L413.5,305.6 L413.9,307.6 L414.4,309.5 L414.8,311.5 L415.3,313.4 L415.7,315.4 L416.1,317.3 L416.6,319.3 L417.0,321.2 L417.4,323.2 L417.9,325.1 L418.3,327.1 L418.7,329.0 L419.1,331.0 L419.6,332.9 L420.0,334.9 L420.4,336.8 L420.8,338.8 L421.2,340.8 L421.6,342.7 L422.1,344.7 L422.5,346.6 L422.9,348.6 L423.3,350.5 L423.7,352.5 L424.1,354.4 L424.5,356.4 L424.9,358.3 L425.3,360.3 L425.7,362.2 L426.1,364.2 L426.5,366.1 L426.9,368.1 L427.3,370.0 L427.7,372.0 L428.1,373.9 L428.5,375.9 L428.9,377.8 L429.3,379.8 L429.7,381.8 L430.1,383.7 L430.4,385.7 L430.8,387.6 L431.2,389.6 L431.6,391.5 L432.0,393.5 L432.4,395.4 L432.8,397.4 L433.1,399.4 L433.5,401.3 L433.9,403.3 L434.3,405.2 L434.7,407.2 L435.1,409.1 L435.4,411.1 L435.8,413.1 L436.2,415.0 L436.6,417.0 L437.0,418.9 L437.3,420.9 L437.7,422.9 L438.1,424.8 L438.5,426.8 L438.8,428.7 L439.2,430.7 L439.6,432.7 L440.0,434.6 L440.4,436.6 L440.7,438.5 L441.1,440.5 L441.5,442.5 L441.8,444.4 L442.2,446.4 L442.6,448.4 L443.0,450.3 L443.3,452.3 L443.7,454.2 L444.1,456.2 L444.5,458.2 L444.8,460.1 L445.2,462.1 L445.6,464.1 L445.9,466.0 L446.3,468.0 L446.7,470.0 L447.1,471.9 L447.4,473.9 L447.8,475.8 L448.2,477.8 L448.5,479.8 L448.9,481.7 L449.3,483.7 L449.7,485.7 L450.0,487.6 L450.4,489.6 L450.8,491.6 L451.1,493.5 L451.5,495.5 L451.9,497.5 L452.3,499.4 L452.6,501.4 L453.0,503.4 L453.4,505.3 L453.8,507.3 L454.1,509.3 L454.5,511.2 L454.9,513.2 L455.2,515.1 L455.6,517.1 L456.0,519.1 L456.4,521.0 L456.7,523.0 L457.1,525.0 L457.5,526.9 L457.9,528.9 L458.2,530.9 L458.6,532.8 L459.0,534.8 L459.4,536.8 L459.7,538.7 L460.1,540.7 L460.5,542.7 L460.9,544.6 L461.3,546.6 L461.6,548.6 L462.0,550.5 L462.4,552.5 L462.8,554.4 L463.2,556.4 L463.6,558.4 L463.9,560.3 L464.3,562.3 L464.7,564.3 L465.1,566.2 L465.5,568.2 L465.9,570.2 L466.2,572.1 L466.6,574.1 L467.0,576.0 L467.4,578.0 L467.8,580.0 L468.2,581.9 L468.6,583.9 L469.0,585.9 L469.4,587.8 L469.8,589.8 L470.2,591.7 L470.6,593.7 L470.9,595.7 L471.3,597.6 L471.7,599.6 L472.1,601.5 L472.5,603.5 L472.9,605.5 L473.3,607.4 L473.7,609.4 L474.1,611.3 L474.6,613.3 L475.0,615.3 L475.4,617.2 L475.8,619.2 L476.2,621.1 L476.6,623.1 L477.0,625.0 L477.4,627.0 L477.8,629.0 L478.2,630.9 L478.7,632.9 L479.1,634.8 L479.5,636.8 L479.9,638.7 L480.3,640.7 L480.8,642.6 L481.2,644.6 L481.6,646.6 L482.0,648.5 L482.4,650.5 L482.9,652.4 L483.3,654.4 L483.7,656.3 L484.2,658.3 L484.6,660.2 L485.0,662.2 L485.5,664.1 L485.9,666.1 L486.3,668.0 L486.8,670.0 L487.2,671.9 L487.7,673.9 L488.1,675.8 L488.6,677.8 L489.0,679.7 L489.5,681.6 L489.9,683.6 L490.4,685.5 L490.8,687.5 L491.3,689.4 L491.7,691.4 L492.2,693.3 L492.6,695.3 L493.1,697.2 L493.6,699.1 L494.0,701.1 L494.5,703.0 L495.0,705.0 L495.4,706.9 L495.9,708.8 L496.4,710.8 L496.8,712.7 L497.3,714.7 L497.8,716.6 L498.3,718.5 L498.8,720.5 L499.2,722.4 L499.7,724.3 L500.2,726.3 L500.7,728.2 L501.2,730.1 L501.7,732.1 L502.2,734.0 L502.7,735.9 L503.2,737.9 L503.7,739.8 L504.2,741.7 L504.7,743.6 L505.2,745.6 L505.7,747.5 L506.2,749.4 L506.7,751.4 L507.3,753.3 L507.8,755.2 L508.3,757.1 L508.8,759.1 L509.3,761.0 L509.9,762.9 L510.4,764.8 L510.9,766.7 L511.5,768.7 L512.0,770.6 L512.6,772.5 L513.1,774.4 L513.7,776.3 L514.2,778.2 L514.8,780.2 L515.4,782.1 L515.9,784.0 L516.5,785.9 L517.1,787.8 L517.7,789.7 L518.3,791.6 L518.9,793.5 L519.5,795.4 L520.1,797.3 L520.7,799.2 L521.3,801.2 L521.9,803.1 L522.5,805.0 L523.2,806.9 L523.8,808.8 L524.4,810.7 L525.1,812.6 L525.7,814.5 L526.4,816.3 L527.1,818.2 L527.7,820.1 L528.4,822.0 L529.1,823.9 L529.8,825.8 L530.5,827.7 L531.2,829.6 L531.9,831.5 L532.6,833.3 L533.4,835.2 L534.1,837.1 L534.8,839.0 L535.6,840.8 L536.4,842.7 L537.1,844.5 L537.9,846.4 L538.7,848.2 L539.5,850.1 L540.3,851.9 L541.1,853.7 L541.9,855.6 L542.8,857.4 L543.6,859.2 L544.5,861.0 L545.4,862.8 L546.3,864.6 L547.2,866.4 L548.1,868.2 L549.0,870.0 L549.9,871.7 L550.9,873.5 L551.8,875.2 L552.8,877.0 L553.8,878.7 L554.8,880.4 L555.8,882.1 L556.8,883.8 L557.8,885.5 L558.9,887.2 L560.0,888.9 L561.0,890.6 L562.1,892.2 L563.2,893.9 L564.4,895.5 L565.5,897.1 L566.7,898.7 L567.8,900.3 L569.0,901.9 L570.2,903.5 L571.4,905.1 L572.7,906.6 L573.9,908.2 L575.2,909.7 L576.4,911.3 L577.7,912.8 L579.0,914.3 L580.3,915.8 L581.6,917.3 L582.9,918.8 L584.3,920.3 L585.6,921.8 L586.9,923.3 L588.3,924.7 L589.7,926.2 L591.0,927.7 L592.4,929.1 L594.0,930.7 L595.3,932.1 L596.7,933.5 L598.2,934.9 L599.6,936.3 L601.0,937.8 L602.4,939.2 L603.8,940.6 L605.3,942.0 L606.7,943.4 L608.1,944.8 L609.6,946.2 L611.0,947.6 L612.5,949.0 L613.9,950.4 L615.4,951.7 L616.8,953.1 L618.3,954.5 L619.7,955.9 L621.2,957.3 L622.6,958.7 L624.0,960.1 L625.5,961.5 L626.9,962.9 L628.4,964.3 L629.8,965.7 L631.2,967.1 L632.7,968.5 L634.1,969.9 L635.5,971.3 L636.9,972.7 L638.4,974.1 L639.8,975.6 L641.2,977.0 L642.6,978.4 L644.0,979.8 L645.3,981.3 L646.7,982.7 L648.1,984.2 L649.4,985.6 L650.8,987.1 L652.1,988.6 L653.5,990.0 L654.8,991.5 L656.1,993.0 L657.4,994.5 L658.7,996.0 L660.0,997.5 L661.3,999.1 L662.5,1000.6 L663.8,1002.1 L665.0,1003.7 L666.2,1005.2 L667.5,1006.8 L668.6,1008.4 L669.8,1010.0 L671.0,1011.6 L672.1,1013.2 L673.3,1014.8 L674.4,1016.4 L675.5,1018.1 L676.6,1019.7 L677.7,1021.4 L678.7,1023.1 L679.8,1024.7 L680.8,1026.4 L681.8,1028.2 L682.8,1029.9 L683.7,1031.6 L684.7,1033.4 L685.6,1035.2 L686.5,1037.0 L687.4,1038.8 L688.3,1040.6 L689.2,1042.4 L690.0,1044.2 L690.8,1046.0 L691.7,1047.9 L692.5,1049.7 L693.3,1051.6 L694.1,1053.4 L694.9,1055.3 L695.8,1057.2 L696.6,1059.0 L697.4,1060.9 L698.2,1062.7 L699.0,1064.6 L699.8,1066.4 L700.7,1068.3 L701.5,1070.1 L702.4,1071.9 L703.2,1073.8 L704.1,1075.6 L705.0,1077.4 L706.0,1079.1 L706.9,1080.9 L707.8,1082.7 L708.8,1084.4 L709.8,1086.1 L710.9,1087.9 L711.9,1089.5 L713.0,1091.2 L714.1,1092.9 L715.3,1094.5 L716.4,1096.1 L717.7,1097.7 L718.9,1099.2 L720.2,1100.7 L721.5,1102.2 L722.9,1103.7 L724.3,1105.1 L725.8,1106.5 L727.3,1107.9 L728.9,1109.2 L730.6,1110.5 L732.3,1111.7 L734.0,1112.7 L735.8,1113.5 L737.7,1114.2 L739.5,1114.5 L741.5,1114.6 L743.4,1114.5 L745.3,1114.1 L747.1,1113.4 L748.9,1112.6 L750.6,1111.6 L752.2,1110.4 L753.6,1109.1 L755.0,1107.7 L756.3,1106.2 L757.6,1104.6 L758.8,1102.9 L759.9,1101.2 L761.0,1099.5 L762.1,1097.7 L763.2,1096.0 L764.2,1094.2 L765.1,1092.4 L766.1,1090.6 L767.0,1088.8 L767.9,1087.0 L768.8,1085.2 L769.7,1083.4 L770.5,1081.5 L771.3,1079.7 L772.1,1077.9 L772.9,1076.0 L773.6,1074.1 L774.3,1072.3 L775.0,1070.4 L775.7,1068.5 L776.4,1066.6 L777.0,1064.8 L777.7,1062.9 L778.3,1061.0 L778.9,1059.1 L779.5,1057.1 L780.1,1055.2 L780.6,1053.3 L781.2,1051.4 L781.7,1049.5 L782.3,1047.5 L782.8,1045.6 L783.3,1043.7 L783.8,1041.8 L784.3,1039.8 L784.8,1037.9 L785.3,1035.9 L785.8,1034.0 L786.3,1032.1 L786.8,1030.1 L787.3,1028.2 L787.7,1026.2 L788.2,1024.3 L788.7,1022.3 L789.2,1020.4 L789.6,1018.5 L790.1,1016.5 L790.6,1014.6 L791.0,1012.6 L791.5,1010.7 L792.0,1008.7 L792.4,1006.8 L792.9,1004.8 L793.3,1002.9 L793.8,1001.0 L794.3,999.0 L794.7,997.1 L795.2,995.1 L795.6,993.2 L796.1,991.2 L796.5,989.3 L796.9,987.3 L797.4,985.4 L797.8,983.4 L798.3,981.5 L798.7,979.5 L799.1,977.6 L799.6,975.6 L800.0,973.7 L800.5,971.7 L800.9,969.8 L801.3,967.8 L801.7,965.9 L802.2,963.9 L802.6,962.0 L803.0,960.0 L803.4,958.1 L803.9,956.1 L804.3,954.2 L804.7,952.2 L805.1,950.2 L805.5,948.3 L806.0,946.3 L806.4,944.4 L806.8,942.4 L807.2,940.5 L807.6,938.5 L808.0,936.6 L808.4,934.6 L808.8,932.7 L809.2,930.7 L809.6,928.7 L810.0,926.8 L810.4,924.8 L810.8,922.9 L811.2,920.9 L811.6,919.0 L812.0,917.0 L812.4,915.0 L812.8,913.1 L813.2,911.1 L813.6,909.2 L814.0,907.2 L814.4,905.3 L814.8,903.3 L815.2,901.3 L815.6,899.4 L816.0,897.4 L816.4,895.5 L816.8,893.5 L817.2,891.5 L817.5,889.6 L817.9,887.6 L818.3,885.7 L818.7,883.7 L819.1,881.7 L819.5,879.8 L819.8,877.8 L820.2,875.9 L820.6,873.9 L821.0,871.9 L821.4,870.0 L821.8,868.0 L822.1,866.0 L822.5,864.1 L822.9,862.1 L823.3,860.2 L823.6,858.2 L824.0,856.2 L824.4,854.3 L824.8,852.3 L825.1,850.4 L825.5,848.4 L825.9,846.4 L826.3,844.5 L826.6,842.5 L827.0,840.5 L827.4,838.6 L827.8,836.6 L828.1,834.6 L828.5,832.7 L828.9,830.7 L829.2,828.8 L829.6,826.8 L830.0,824.8 L830.4,822.9 L830.7,820.9 L831.1,818.9 L831.5,817.0 L831.8,815.0 L832.2,813.0 L832.6,811.1 L832.9,809.1 L833.3,807.1 L833.7,805.2 L834.1,803.2 L834.4,801.3 L834.8,799.3 L835.2,797.3 L835.5,795.4 L835.9,793.4 L836.3,791.4 L836.6,789.5 L837.0,787.5 L837.4,785.5 L837.7,783.6 L838.1,781.6 L838.5,779.6 L838.9,777.7 L839.2,775.7 L839.6,773.7 L840.0,771.8 L840.3,769.8 L840.7,767.8 L841.1,765.9 L841.4,763.9 L841.8,761.9 L842.2,760.0 L842.6,758.0 L842.9,756.1 L843.3,754.1 L843.7,752.1 L844.1,750.2 L844.4,748.2 L844.8,746.2 L845.2,744.3 L845.6,742.3 L845.9,740.3 L846.3,738.4 L846.7,736.4 L847.1,734.4 L847.4,732.5 L847.8,730.5 L848.2,728.5 L848.6,726.6 L849.0,724.6 L849.3,722.6 L849.7,720.7 L850.1,718.7 L850.5,716.7 L850.9,714.8 L851.2,712.8 L851.6,710.8 L852.0,708.9 L852.4,706.9 L852.8,705.0 L853.2,703.0 L853.6,701.0 L854.0,699.1 L854.3,697.1 L854.7,695.1 L855.1,693.2 L855.5,691.2 L855.9,689.2 L856.3,687.3 L856.7,685.3 L857.1,683.3 L857.5,681.4 L857.9,679.4 L858.3,677.5 L858.7,675.5 L859.1,673.5 L859.5,671.6 L859.9,669.6 L860.3,667.6 L860.7,665.7 L861.1,663.7 L861.5,661.8 L861.9,659.8 L862.3,657.8 L862.8,655.9 L863.2,653.9 L863.6,652.0 L864.0,650.0 L864.4,648.0 L864.9,646.1 L865.3,644.1 L865.7,642.2 L866.1,640.2 L866.6,638.3 L867.0,636.3 L867.4,634.4 L867.9,632.4 L868.3,630.5 L868.8,628.5 L869.2,626.6 L869.7,624.6 L870.1,622.7 L870.6,620.7 L871.1,618.8 L871.5,616.9 L872.0,614.9 L872.5,613.0 L872.9,611.1 L873.4,609.1 L873.9,607.2 L874.4,605.3 L874.9,603.3 L875.4,601.4 L875.9,599.5 L876.4,597.6 L876.9,595.6 L877.4,593.7 L877.9,591.8 L878.4,589.9 L878.9,588.0 L879.5,586.1 L880.0,584.2 L880.5,582.3 L881.1,580.4 L881.6,578.5 L882.2,576.6 L882.7,574.7 L883.3,572.8 L883.9,570.9 L884.5,569.0 L885.1,567.1 L885.7,565.2 L886.3,563.4 L886.9,561.5 L887.6,559.6 L888.3,557.8 L889.0,555.9 L889.7,554.0 L890.4,552.2 L891.2,550.3 L892.0,548.5 L892.8,546.7 L893.6,544.8 L894.5,543.0 L895.3,541.2 L896.3,539.4 L897.2,537.6 L898.2,535.8 L899.2,534.0 L900.2,532.2 L901.3,530.4 L902.4,528.6 L903.5,526.9 L904.7,525.2 L905.9,523.5 L907.2,521.8 L908.4,520.2 L909.7,518.6 L911.1,517.1 L912.5,515.6 L913.9,514.1 L915.3,512.7 L916.8,511.4 L918.3,510.1 L919.8,508.9 L921.4,507.8 L923.0,506.7 L924.7,505.7 L926.4,504.7 L928.1,503.9 L929.9,503.1 L931.7,502.5 L933.5,501.9 L935.4,501.4 L937.3,501.0 L939.2,500.7 L941.2,500.6 L943.2,500.5 L945.2,500.6 L947.2,500.7 L949.2,501.0 L951.2,501.4 L953.2,502.0 L955.1,502.6 L956.9,503.4 L958.6,504.3 L960.3,505.3 L961.9,506.4 L963.5,507.7 L965.0,509.0 L966.5,510.4 L967.9,511.8 L969.3,513.3 L970.7,514.8 L972.0,516.3 L973.4,517.9 L974.7,519.4 L976.0,521.0 L977.4,522.5 L978.7,524.1 L980.0,525.6 L981.3,527.1 L982.6,528.6 L983.9,530.1 L985.2,531.7 L986.5,533.2 L987.7,534.7 L989.0,536.3 L990.2,537.8 L991.4,539.4 L992.6,540.9 L993.8,542.5 L994.9,544.1 L996.1,545.7 L997.2,547.4 L998.3,549.0 L999.3,550.7 L1000.4,552.4 L1001.4,554.1 L1002.5,555.8 L1003.5,557.5 L1004.6,559.2 L1005.7,560.9 L1006.8,562.6 L1007.9,564.2 L1009.1,565.9 L1010.3,567.5 L1011.5,569.1 L1012.8,570.6 L1014.1,572.1 L1015.6,573.6 L1017.0,575.0 L1018.6,576.3 L1020.2,577.6 L1021.9,578.8 L1023.6,579.9 L1025.4,580.9 L1027.2,581.7 L1029.0,582.4 L1030.9,583.0 L1032.8,583.4 L1034.7,583.6 L1036.7,583.7 L1038.6,583.5 L1040.6,583.2 L1042.5,582.6 L1044.4,582.0 L1046.3,581.1 L1048.1,580.2 L1049.9,579.1 L1051.6,578.0 L1053.2,576.8 L1054.7,575.5 L1056.2,574.1 L1057.6,572.7 L1058.9,571.3 L1060.3,569.8 L1061.6,568.3 L1062.9,566.8 L1064.1,565.2 L1065.4,563.7 L1066.7,562.1 L1067.9,560.6 L1069.1,559.0 L1070.3,557.4 L1071.5,555.8 L1072.7,554.2 L1073.9,552.6 L1075.1,551.0 L1076.3,549.4 L1077.4,547.8 L1078.6,546.1 L1079.7,544.5 L1080.9,542.8 L1082.0,541.2 L1083.1,539.5 L1084.2,537.9 L1085.3,536.2 L1086.5,534.6 L1087.6,532.9 L1088.7,531.2 L1089.7,529.6 L1090.8,527.9 L1091.9,526.2 L1093.0,524.5 L1094.1,522.9 L1095.2,521.2 L1096.2,519.5 L1097.3,517.8 L1098.4,516.1 L1099.5,514.5 L1100.5,512.8 L1101.6,511.1 L1102.7,509.4 L1103.8,507.7 L1104.9,506.1 L1105.9,504.4 L1107.0,502.7 L1108.1,501.1 L1109.2,499.4 L1110.4,497.8 L1111.5,496.1 L1112.6,494.5 L1113.8,492.9 L1115.0,491.3 L1116.2,489.7 L1117.5,488.1 L1118.8,486.6 L1120.1,485.0 L1121.4,483.5 L1122.8,482.0 L1124.2,480.5 L1125.7,479.1 L1127.2,477.6 L1128.8,476.3 L1130.4,475.0 L1132.0,473.8 L1133.7,472.8 L1135.4,472.0 L1137.1,471.5 L1138.9,471.2 L1140.7,471.2 L1142.5,471.5 L1144.3,472.1 L1146.2,472.9 L1148.0,473.9 L1149.7,475.1 L1151.4,476.5 L1152.9,477.9 L1154.4,479.4 L1155.8,481.0 L1157.0,482.6 L1158.2,484.2 L1159.3,485.8 L1160.4,487.5 L1161.4,489.2 L1162.4,490.9 L1163.4,492.7 L1164.3,494.4 L1165.2,496.2 L1166.1,498.0 L1167.0,499.7 L1167.9,501.5 L1168.7,503.4 L1169.5,505.2 L1170.3,507.0 L1171.1,508.9 L1171.9,510.7 L1172.6,512.6 L1173.4,514.4 L1174.1,516.3 L1174.8,518.2 L1175.5,520.1 L1176.1,521.9 L1176.8,523.8 L1177.5,525.7 L1178.1,527.6 L1178.7,529.5 L1179.4,531.4 L1180.0,533.3 L1180.6,535.2 L1181.2,537.1 L1181.7,539.0 L1182.3,541.0 L1182.9,542.9 L1183.4,544.8 L1184.0,546.7 L1184.5,548.6 L1185.0,550.6 L1185.5,552.5 L1186.0,554.4 L1186.5,556.4 L1187.0,558.3 L1187.5,560.2 L1188.0,562.2 L1188.4,564.1 L1188.9,566.0 L1189.4,568.0 L1189.8,569.9 L1190.2,571.9 L1190.7,573.8 L1191.1,575.8 L1191.5,577.7 L1192.0,579.7 L1192.4,581.6 L1192.8,583.6 L1193.2,585.5 L1193.6,587.5 L1194.0,589.5 L1194.4,591.4 L1194.8,593.4 L1195.2,595.3 L1195.6,597.3 L1196.0,599.3 L1196.4,601.2 L1196.8,603.2 L1197.1,605.1 L1197.5,607.1 L1197.9,609.1 L1198.3,611.0 L1198.7,613.0 L1199.0,615.0 L1199.4,616.9 L1199.8,618.9 L1200.2,620.9 L1200.5,622.8 L1200.9,624.8 L1201.3,626.8 L1201.7,628.7 L1202.1,630.7 L1202.5,632.6 L1202.8,634.6 L1203.2,636.6 L1203.6,638.5 L1204.0,640.5 L1204.4,642.5 L1204.8,644.4 L1205.2,646.4 L1205.6,648.4 L1206.0,650.3 L1206.3,652.3 L1206.7,654.2 L1207.1,656.2 L1207.5,658.2 L1207.9,660.1 L1208.3,662.1 L1208.7,664.0 L1209.1,666.0 L1209.5,668.0 L1209.9,669.9 L1210.3,671.9 L1210.7,673.8 L1211.1,675.8 L1211.5,677.8 L1211.9,679.7 L1212.3,681.7 L1212.7,683.6 L1213.1,685.6 L1213.5,687.6 L1213.9,689.5 L1214.3,691.5 L1214.7,693.4 L1215.1,695.4 L1215.5,697.4 L1215.9,699.3 L1216.3,701.3 L1216.7,703.2 L1217.1,705.2 L1217.6,707.1 L1218.0,709.1 L1218.4,711.1 L1218.8,713.0 L1219.2,715.0 L1219.6,716.9 L1220.0,718.9 L1220.4,720.8 L1220.8,722.8 L1221.3,724.8 L1221.7,726.7 L1222.1,728.7 L1222.5,730.6 L1222.9,732.6 L1223.3,734.5 L1223.7,736.5 L1224.1,738.4 L1224.6,740.4 L1225.0,742.4 L1225.4,744.3 L1225.8,746.3 L1226.2,748.2 L1226.6,750.2 L1227.1,752.1 L1227.5,754.1 L1227.9,756.0 L1228.3,758.0 L1228.7,759.9 L1229.2,761.9 L1229.6,763.9 L1230.0,765.8 L1230.4,767.8 L1230.8,769.7 L1231.3,771.7 L1231.7,773.6 L1232.1,775.6 L1232.5,777.5 L1232.9,779.5 L1233.4,781.4 L1233.8,783.4 L1234.2,785.3 L1234.6,787.3 L1235.1,789.2 L1235.5,791.2 L1235.9,793.1 L1236.3,795.1 L1236.8,797.0 L1237.2,799.0 L1237.6,800.9 L1238.0,802.9 L1238.5,804.8 L1238.9,806.8 L1239.3,808.7 L1239.7,810.7 L1240.2,812.6 L1240.6,814.6 L1241.0,816.5 L1241.4,818.5 L1241.9,820.4 L1242.3,822.4 L1242.7,824.3 L1243.1,826.3 L1243.6,828.2 L1244.0,830.2 L1244.4,832.1 L1244.9,834.1 L1245.3,836.0 L1245.7,838.0 L1246.2,839.9 L1246.6,841.9 L1247.0,843.8 L1247.5,845.8 L1247.9,847.7 L1248.3,849.7 L1248.8,851.6 L1249.2,853.6 L1249.6,855.5 L1250.1,857.5 L1250.5,859.4 L1250.9,861.4 L1251.4,863.3 L1251.8,865.3 L1252.2,867.2 L1252.7,869.2 L1253.1,871.1 L1253.5,873.1 L1254.0,875.0 L1254.4,877.0 L1254.9,878.9 L1255.3,880.9 L1255.7,882.8 L1256.2,884.8 L1256.6,886.7 L1257.1,888.7 L1257.5,890.6 L1257.9,892.6 L1258.4,894.5 L1258.8,896.5 L1259.3,898.4 L1259.7,900.4 L1260.2,902.3 L1260.6,904.3 L1261.1,906.2 L1261.5,908.2 L1261.9,910.1 L1262.4,912.1 L1262.8,914.0 L1263.3,916.0 L1263.7,917.9 L1264.2,919.9 L1264.6,921.9 L1265.1,923.8 L1265.5,925.8 L1266.0,927.7 L1266.4,929.7 L1266.9,931.6 L1267.3,933.6 L1267.8,935.5 L1268.2,937.5 L1268.7,939.4 L1269.1,941.4 L1269.6,943.3 L1270.1,945.3 L1270.5,947.3 L1271.0,949.2 L1271.4,951.2 L1271.9,953.1 L1272.4,955.1 L1272.8,957.0 L1273.3,959.0 L1273.8,960.9 L1274.2,962.9 L1274.7,964.8 L1275.2,966.8 L1275.6,968.7 L1276.1,970.6 L1276.6,972.6 L1277.1,974.5 L1277.6,976.5 L1278.1,978.4 L1278.6,980.3 L1279.1,982.3 L1279.6,984.2 L1280.1,986.1 L1280.6,988.1 L1281.1,990.0 L1281.6,991.9 L1282.1,993.8 L1282.6,995.7 L1283.2,997.6 L1283.7,999.6 L1284.2,1001.5 L1284.8,1003.4 L1285.4,1005.3 L1285.9,1007.2 L1286.5,1009.1 L1287.1,1011.0 L1287.7,1012.8 L1288.3,1014.7 L1288.9,1016.6 L1289.5,1018.5 L1290.1,1020.4 L1290.8,1022.3 L1291.4,1024.1 L1292.1,1026.0 L1292.8,1027.9 L1293.5,1029.7 L1294.2,1031.6 L1294.9,1033.4 L1295.7,1035.3 L1296.4,1037.1 L1297.2,1039.0 L1298.0,1040.8 L1298.8,1042.6 L1299.6,1044.5 L1300.4,1046.3 L1301.3,1048.1 L1302.2,1049.9 L1303.1,1051.7 L1304.0,1053.5 L1304.9,1055.4 L1305.9,1057.2 L1306.9,1059.0 L1307.9,1060.7 L1308.9,1062.5 L1309.9,1064.3 L1311.0,1066.1 L1312.1,1067.9 L1313.2,1069.6 L1314.3,1071.4 L1315.5,1073.1 L1316.7,1074.9 L1317.9,1076.5 L1319.2,1078.1 L1320.5,1079.6 L1321.9,1081.0 L1323.3,1082.3 L1324.8,1083.5 L1326.3,1084.5 L1327.9,1085.3 L1329.6,1085.9 L1331.4,1086.4 L1333.2,1086.6 L1335.1,1086.6 L1337.0,1086.4 L1339.0,1086.0 L1340.9,1085.4 L1342.9,1084.7 L1344.8,1083.8 L1346.6,1082.8 L1348.4,1081.6 L1350.0,1080.4 L1351.6,1079.0 L1353.1,1077.6 L1354.4,1076.1 L1355.7,1074.5 L1357.0,1072.9 L1358.3,1071.3 L1359.5,1069.7 L1360.7,1068.1 L1362.0,1066.6 L1363.2,1065.0 L1364.5,1063.4 L1365.7,1061.9 L1367.0,1060.4 L1368.2,1058.8 L1369.5,1057.3 L1370.7,1055.8 L1371.9,1054.3 L1373.2,1052.7 L1374.4,1051.2 L1375.6,1049.7 L1376.8,1048.1 L1378.0,1046.6 L1379.2,1045.0 L1380.4,1043.4 L1381.6,1041.8 L1382.8,1040.2 L1383.9,1038.6 L1385.1,1037.0 L1386.2,1035.4 L1387.4,1033.7 L1388.5,1032.1 L1389.7,1030.4 L1390.8,1028.7 L1391.9,1027.1 L1393.1,1025.4 L1394.2,1023.7 L1395.3,1022.0 L1396.4,1020.3 L1397.6,1018.7 L1398.7,1017.0 L1399.8,1015.3 L1401.0,1013.6 L1402.1,1012.0 L1403.3,1010.3 L1404.4,1008.6 L1405.6,1007.0 L1406.8,1005.3 L1408.0,1003.7 L1409.2,1002.1 L1410.4,1000.5 L1411.6,998.9 L1412.8,997.3 L1414.1,995.8 L1415.4,994.2 L1416.6,992.7 L1417.9,991.2 L1419.3,989.7 L1420.6,988.3 L1422.0,986.8 L1423.3,985.4 L1424.7,984.0 L1426.1,982.7 L1427.6,981.3 L1429.1,980.0 L1430.6,978.7 L1432.1,977.5 L1433.6,976.3 L1435.2,975.1 L1436.8,973.9 L1438.4,972.8 L1440.1,971.8 L1441.8,970.7 L1443.5,969.7 L1445.2,968.7 L1447.0,967.8 L1448.7,966.8 L1450.5,965.9 L1452.3,965.0 L1454.2,964.2 L1456.0,963.4 L1457.9,962.6 L1459.8,961.8 L1461.6,961.0 L1463.5,960.2 L1465.4,959.5 L1467.3,958.8 L1469.3,958.1 L1471.2,957.4 L1473.1,956.7 L1475.0,956.0 L1476.9,955.3 L1478.8,954.6 L1480.7,953.9 L1482.6,953.2 L1484.4,952.4 L1486.2,951.7 L1488.0,950.8 L1489.8,950.0 L1491.5,949.0 L1493.2,948.1 L1494.9,947.0 L1496.5,945.9 L1498.1,944.8 L1499.6,943.6 L1501.2,942.3 L1502.6,941.1 L1504.1,939.7 L1505.5,938.3 L1506.9,936.9 L1508.2,935.5 L1509.5,934.0 L1510.8,932.4 L1512.0,930.9 L1513.3,929.3 L1514.4,927.7 L1515.6,926.0 L1516.7,924.3 L1517.8,922.6 L1518.9,920.9 L1520.0,919.2 L1521.0,917.4 L1522.0,915.7 L1523.0,913.9 L1523.9,912.1 L1524.9,910.3 L1525.8,908.5 L1526.6,906.7 L1527.5,904.9 L1528.4,903.0 L1529.2,901.2 L1530.0,899.4 L1530.8,897.5 L1531.5,895.7 L1532.3,893.8 L1533.0,892.0 L1533.7,890.1 L1534.5,888.2 L1535.1,886.3 L1535.8,884.5 L1536.5,882.6 L1537.1,880.7 L1537.8,878.8 L1538.4,876.9 L1539.0,875.0 L1539.6,873.1 L1540.2,871.2 L1540.8,869.3 L1541.4,867.4 L1542.0,865.5 L1542.6,863.6 L1543.1,861.7 L1543.7,859.7 L1544.3,857.8 L1544.8,855.9 L1545.4,854.0 L1545.9,852.1 L1546.5,850.1 L1547.0,848.2 L1547.6,846.3 L1548.1,844.4 L1548.6,842.5 L1549.2,840.5 L1549.7,838.6 L1550.2,836.7 L1550.8,834.8 L1551.3,832.8 L1551.8,830.9 L1552.3,829.0 L1552.9,827.1 L1553.4,825.1 L1553.9,823.2 L1554.4,821.3 L1554.9,819.3 L1555.4,817.4 L1555.9,815.5 L1556.5,813.5 L1557.0,811.6 L1557.5,809.7 L1558.0,807.7 L1558.5,805.8 L1559.0,803.9 L1559.4,801.9 L1559.9,800.0 L1560.4,798.1 L1560.9,796.1 L1561.4,794.2 L1561.9,792.3 L1562.4,790.3 L1562.9,788.4 L1563.3,786.4 L1563.8,784.5 L1564.3,782.6 L1564.8,780.6 L1565.2,778.7 L1565.7,776.7 L1566.2,774.8 L1566.6,772.8 L1567.1,770.9 L1567.6,769.0 L1568.0,767.0 L1568.5,765.1 L1569.0,763.1 L1569.4,761.2 L1569.9,759.2 L1570.3,757.3 L1570.8,755.3 L1571.2,753.4 L1571.7,751.4 L1572.1,749.5 L1572.6,747.6 L1573.0,745.6 L1573.5,743.7 L1573.9,741.7 L1574.4,739.8 L1574.8,737.8 L1575.2,735.9 L1575.7,733.9 L1576.1,732.0 L1576.5,730.0 L1577.0,728.0 L1577.4,726.1 L1577.8,724.1 L1578.3,722.2 L1578.7,720.2 L1579.1,718.3 L1579.5,716.3 L1580.0,714.4 L1580.4,712.4 L1580.8,710.5 L1581.2,708.5 L1581.7,706.6 L1582.1,704.6 L1582.5,702.6 L1582.9,700.7 L1583.3,698.7 L1583.7,696.8 L1584.2,694.8 L1584.6,692.9 L1585.0,690.9 L1585.4,688.9 L1585.8,687.0 L1586.2,685.0 L1586.6,683.1 L1587.0,681.1 L1587.4,679.2 L1587.8,677.2 L1588.2,675.2 L1588.6,673.3 L1589.1,671.3 L1589.5,669.4 L1589.9,667.4 L1590.3,665.4 L1590.7,663.5 L1591.1,661.5 L1591.5,659.6 L1591.9,657.6 L1592.3,655.6 L1592.6,653.7 L1593.0,651.7 L1593.4,649.8 L1593.8,647.8 L1594.2,645.8 L1594.6,643.9 L1595.0,641.9 L1595.4,640.0 L1595.8,638.0 L1596.2,636.0 L1596.6,634.1 L1597.0,632.1 L1597.4,630.1 L1597.8,628.2 L1598.1,626.2 L1598.5,624.3 L1598.9,622.3 L1599.3,620.3 L1599.7,618.4 L1600.1,616.4 L1600.5,614.4 L1600.9,612.5 L1601.3,610.5 L1601.6,608.6 L1602.0,606.6 L1602.4,604.6 L1602.8,602.7 L1603.2,600.7 L1603.6,598.8 L1604.0,596.8 L1604.3,594.8 L1604.7,592.9 L1605.1,590.9 L1605.5,588.9 L1605.9,587.0 L1606.3,585.0 L1606.7,583.1 L1607.0,581.1 L1607.4,579.1 L1607.8,577.2 L1608.2,575.2 L1608.6,573.3 L1609.0,571.3 L1609.3,569.3 L1609.7,567.4 L1610.1,565.4 L1610.5,563.4 L1610.9,561.5 L1611.3,559.5 L1611.6,557.6 L1612.0,555.6 L1612.4,553.6 L1612.8,551.7 L1613.2,549.7 L1613.6,547.8 L1613.9,545.8 L1614.3,543.8 L1614.7,541.9 L1615.1,539.9 L1615.5,538.0 L1615.9,536.0 L1616.2,534.0 L1616.6,532.1 L1617.0,530.1 L1617.4,528.1 L1617.8,526.2 L1618.2,524.2 L1618.5,522.3 L1618.9,520.3 L1619.3,518.3 L1619.7,516.4 L1620.1,514.4 L1620.5,512.5 L1620.8,510.5 L1621.2,508.5 L1621.6,506.6 L1622.0,504.6 L1622.4,502.7 L1622.7,500.7 L1623.1,498.7 L1623.5,496.8 L1623.9,494.8 L1624.3,492.9 L1624.6,490.9 L1625.0,488.9 L1625.4,487.0 L1625.8,485.0 L1626.2,483.0 L1626.5,481.1 L1626.9,479.1 L1627.3,477.2 L1627.7,475.2 L1628.1,473.2 L1628.4,471.3 L1628.8,469.3 L1629.2,467.4 L1629.6,465.4 L1630.0,463.4 L1630.3,461.5 L1630.7,459.5 L1631.1,457.5 L1631.5,455.6 L1631.9,453.6 L1632.2,451.7 L1632.6,449.7 L1633.0,447.7 L1633.4,445.8 L1633.8,443.8 L1634.1,441.8 L1634.5,439.9 L1634.9,437.9 L1635.3,436.0 L1635.6,434.0 L1636.0,432.0 L1636.4,430.1 L1636.8,428.1 L1637.2,426.1 L1637.5,424.2 L1637.9,422.2 L1638.3,420.3 L1638.7,418.3 L1639.1,416.3 L1639.4,414.4 L1639.8,412.4 L1640.2,410.4 L1640.6,408.5 L1640.9,406.5 L1641.3,404.5 L1641.7,402.6 L1642.1,400.6 L1642.4,398.6 L1642.8,396.7 L1643.2,394.7 L1643.6,392.8 L1643.9,390.8 L1644.3,388.8 L1644.7,386.9 L1645.1,384.9 L1645.5,382.9 L1645.8,381.0 L1646.2,379.0 L1646.6,377.0 L1647.0,375.1 L1647.3,373.1 L1647.7,371.1 L1648.1,369.2 L1648.5,367.2 L1648.9,365.2 L1649.2,363.3 L1649.6,361.3 L1650.0,359.3 L1650.4,357.4 L1650.8,355.4 L1651.2,353.5 L1651.6,351.5 L1652.0,349.5 L1652.4,347.6 L1652.8,345.6 L1653.2,343.7 L1653.7,341.7 L1654.1,339.8 L1654.5,337.8 L1654.9,335.9 L1655.4,333.9 L1655.8,332.0 L1656.3,330.0 L1656.8,328.1 L1657.2,326.1 L1657.7,324.2 L1658.2,322.3 L1658.7,320.3 L1659.2,318.4 L1659.7,316.5 L1660.2,314.6 L1660.8,312.6 L1661.3,310.7 L1661.8,308.8 L1662.4,306.9 L1663.0,305.0 L1663.5,303.1 L1664.1,301.2 L1664.7,299.3 L1665.3,297.4 L1666.0,295.5 L1666.6,293.6 L1667.2,291.7 L1667.9,289.8 L1668.6,287.9 L1669.2,286.0 L1669.9,284.2 L1670.6,282.3 L1671.4,280.4 L1672.1,278.6 L1672.8,276.7 L1673.6,274.9 L1674.4,273.0 L1675.2,271.2 L1676.0,269.4 L1676.9,267.6 L1677.8,265.8 L1678.8,264.0 L1679.7,262.2 L1680.8,260.5 L1681.9,258.8 L1683.1,257.2 L1684.3,255.6 L1685.6,254.0 L1687.0,252.4 L1688.5,250.9 L1690.0,249.5 L1691.6,248.3 L1693.3,247.2 L1695.1,246.3 L1696.9,245.7 L1698.7,245.4 L1700.6,245.4 L1702.5,245.7 L1704.3,246.3 L1705.9,247.1 L1707.4,248.2 L1708.8,249.5 L1710.1,250.9 L1711.3,252.5 L1712.4,254.2 L1713.5,255.9 L1714.6,257.7 L1715.6,259.5 L1716.6,261.2 L1717.5,263.0 L1718.5,264.8 L1719.4,266.7 L1720.3,268.5 L1721.2,270.3 L1722.1,272.1 L1722.9,274.0 L1723.8,275.8 L1724.6,277.6 L1725.4,279.5 L1726.2,281.3 L1727.0,283.2 L1727.7,285.0 L1728.5,286.9 L1729.2,288.8 L1729.9,290.7 L1730.6,292.5 L1731.3,294.4 L1731.9,296.3 L1732.6,298.2 L1733.2,300.1 L1733.8,302.0 L1734.5,303.9 L1735.1,305.8 L1735.6,307.7 L1736.2,309.6 L1736.8,311.5 L1737.3,313.4 L1737.9,315.4 L1738.4,317.3 L1738.9,319.2 L1739.5,321.1 L1740.0,323.1 L1740.5,325.0 L1740.9,327.0 L1741.4,328.9 L1741.9,330.8 L1742.4,332.8 L1742.8,334.7 L1743.3,336.7 L1743.7,338.6 L1744.2,340.6 L1744.6,342.5 L1745.0,344.5 L1745.5,346.4 L1745.9,348.4 L1746.3,350.3 L1746.7,352.3 L1747.1,354.2 L1747.5,356.2 L1747.9,358.2 L1748.3,360.1 L1748.7,362.1 L1749.1,364.0 L1749.5,366.0 L1749.9,368.0 L1750.3,369.9 L1750.7,371.9 L1751.1,373.9 L1751.5,375.8 L1751.9,377.8 L1752.3,379.7 L1752.7,381.7 L1753.1,383.7 L1753.5,385.6 L1753.9,387.6 L1754.3,389.5 L1754.7,391.5 L1755.1,393.4 L1755.6,395.4 L1756.0,397.4 L1756.4,399.3 L1756.8,401.3 L1757.2,403.2 L1757.6,405.2 L1758.0,407.1 L1758.4,409.1 L1758.8,411.1 L1759.2,413.0 L1759.6,415.0 L1760.0,416.9 L1760.5,418.9 L1760.9,420.8 L1761.3,422.8 L1761.7,424.7 L1762.1,426.7 L1762.5,428.6 L1762.9,430.6 L1763.4,432.6 L1763.8,434.5 L1764.2,436.5 L1764.6,438.4 L1765.0,440.4 L1765.4,442.3 L1765.8,444.3 L1766.3,446.2 L1766.7,448.2 L1767.1,450.1 L1767.5,452.1 L1767.9,454.0 L1768.3,456.0 L1768.8,457.9 L1769.2,459.9 L1769.6,461.8 L1770.0,463.8 L1770.4,465.8 L1770.9,467.7 L1771.3,469.7 L1771.7,471.6 L1772.1,473.6 L1772.5,475.5 L1772.9,477.5 L1773.4,479.4 L1773.8,481.4 L1774.2,483.3 L1774.6,485.3 L1775.0,487.2 L1775.4,489.2 L1775.9,491.1 L1776.3,493.1 L1776.7,495.0 L1777.1,497.0 L1777.5,498.9 L1778.0,500.9 L1778.4,502.8 L1778.8,504.8 L1779.2,506.8 L1779.6,508.7 L1780.0,510.7 L1780.4,512.6 L1780.9,514.6 L1781.3,516.5 L1781.7,518.5 L1782.1,520.4 L1782.5,522.4 L1782.9,524.3 L1783.3,526.3 L1783.7,528.2 L1784.2,530.2 L1784.6,532.2 L1785.0,534.1 L1785.4,536.1 L1785.8,538.0 L1786.2,540.0 L1786.6,541.9 L1787.0,543.9 L1787.4,545.8 L1787.8,547.8 L1788.2,549.8 L1788.6,551.7 L1789.1,553.7 L1789.5,555.6 L1789.9,557.6 L1790.3,559.5 L1790.7,561.5 L1791.1,563.5 L1791.5,565.4 L1791.9,567.4 L1792.3,569.3 L1792.7,571.3 L1793.1,573.3 L1793.5,575.2 L1793.8,577.2 L1794.2,579.2 L1794.6,581.1 L1795.0,583.1 L1795.4,585.0 L1795.8,587.0 L1796.2,589.0 L1796.6,590.9 L1797.0,592.9 L1797.4,594.9 L1797.8,596.8 L1798.1,598.8 L1798.5,600.8 L1798.9,602.7 L1799.3,604.7 L1799.7,606.7 L1800.1,608.6 L1800.4,610.6 L1800.8,612.6 L1801.2,614.5 L1801.6,616.5 L1802.0,618.5 L1802.3,620.4 L1802.7,622.4 L1803.1,624.4 L1803.5,626.3 L1803.9,628.3 L1804.3,630.3 L1804.7,632.2 L1805.1,634.2 L1805.4,636.2 L1805.8,638.1 L1806.2,640.1 L1806.6,642.1 L1807.0,644.0 L1807.4,646.0 L1807.8,647.9 L1808.2,649.9 L1808.6,651.9 L1809.0,653.8 L1809.5,655.8 L1809.9,657.8 L1810.3,659.7 L1810.7,661.7 L1811.1,663.6 L1811.5,665.6 L1812.0,667.5 L1812.4,669.5 L1812.8,671.4 L1813.3,673.4 L1813.7,675.3 L1814.2,677.3 L1814.6,679.2 L1815.1,681.2 L1815.5,683.1 L1816.0,685.1 L1816.5,687.0 L1816.9,689.0 L1817.4,690.9 L1817.9,692.8 L1818.4,694.8 L1818.9,696.7 L1819.4,698.6 L1819.9,700.6 L1820.4,702.5 L1820.9,704.4 L1821.4,706.3 L1821.9,708.3 L1822.5,710.2 L1823.0,712.1 L1823.5,714.0 L1824.1,715.9 L1824.7,717.9 L1825.2,719.8 L1825.8,721.7 L1826.4,723.6 L1826.9,725.5 L1827.5,727.4 L1828.1,729.3 L1828.7,731.2 L1829.3,733.1 L1830.0,735.0 L1830.6,736.9 L1831.2,738.8 L1831.8,740.7 L1832.5,742.5 L1833.2,744.4 L1833.8,746.3 L1834.5,748.2 L1835.2,750.1 L1835.9,751.9 L1836.6,753.8 L1837.3,755.7 L1838.0,757.5 L1838.7,759.4 L1839.4,761.2 L1840.2,763.1 L1840.9,764.9 L1841.7,766.8 L1842.5,768.6 L1843.2,770.5 L1844.0,772.3 L1844.8,774.2 L1845.6,776.0 L1846.5,777.8 L1847.3,779.6 L1848.1,781.5 L1849.0,783.3 L1849.8,785.1 L1850.7,786.9 L1851.6,788.7 L1852.5,790.5 L1853.4,792.3 L1854.3,794.1 L1855.2,795.9 L1856.2,797.6 L1857.1,799.4 L1858.1,801.2 L1859.1,802.9 L1860.1,804.7 L1861.0,806.4 L1862.1,808.1 L1863.1,809.8 L1864.1,811.6 L1865.2,813.3 L1866.2,815.0 L1867.3,816.7 L1868.4,818.3 L1869.5,820.0 L1870.6,821.7 L1871.7,823.3 L1872.8,825.0 L1874.0,826.6 L1875.1,828.2 L1876.3,829.9 L1877.5,831.5 L1878.7,833.1 L1879.9,834.6 L1881.1,836.2 L1882.4,837.8 L1883.7,839.3 L1884.9,840.9 L1886.2,842.4 L1887.5,843.9 L1888.8,845.4 L1890.1,846.9 L1891.4,848.4 L1892.7,849.9 L1894.0,851.4 L1895.3,852.9 L1896.6,854.5 L1897.9,856.0 L1899.2,857.5 L1900.5,859.0 L1901.7,860.6 L1903.0,862.1 L1904.2,863.7 L1905.4,865.3 L1906.6,866.9 L1907.8,868.6 L1908.9,870.2 L1910.1,871.9 L1911.2,873.5 L1912.3,875.2 L1913.5,876.8 L1914.7,878.4 L1915.9,880.0 L1917.2,881.5 L1918.6,883.0 L1920.1,884.3 L1921.6,885.6 L1923.2,886.9 L1925.0,888.0" stroke="#56B4E9" stroke-width="15"/>
</g>
<rect x="376" y="53" width="1536" height="1204" fill="none" stroke="#262626" stroke-width="9.8" stroke-linejoin="miter"/>
<g stroke-linecap="round" fill="none">
<path d="M461.7,162 H635.7" stroke="#000" stroke-width="30"/>
<path d="M461.6,288.4 H635.6" stroke="#009E73" stroke-width="15"/>
<path d="M1226.5,162.4 H1400.5" stroke="#E69F00" stroke-width="15"/>
<path d="M1226.5,283.5 H1400.5" stroke="#56B4E9" stroke-width="15"/>
</g>
<g font-family="'Liberation Serif', 'DejaVu Serif', serif" font-size="88" fill="#000">
<g transform="matrix(1.0087 0 0 0.9852 0.73 17.83)"><text x="300" y="1288.0" text-anchor="end" stroke="#000" stroke-width="0.9">0.0</text></g>
<g transform="matrix(1.0146 0 0 0.9852 -0.41 14.36)"><text x="300" y="1078.6" text-anchor="end" stroke="#000" stroke-width="0.9">0.2</text></g>
<g transform="matrix(0.9981 0 0 0.9852 2.76 11.87)"><text x="300" y="869.2" text-anchor="end" stroke="#000" stroke-width="0.9">0.4</text></g>
<g transform="matrix(1.0010 0 0 0.9852 2.22 8.39)"><text x="300" y="659.8" text-anchor="end" stroke="#000" stroke-width="0.9">0.6</text></g>
<g transform="matrix(1.0173 0 0 0.9852 -0.94 5.90)"><text x="300" y="450.4" text-anchor="end" stroke="#000" stroke-width="0.9">0.8</text></g>
<g transform="matrix(1.0010 0 0 0.9852 2.70 2.43)"><text x="300" y="241.0" text-anchor="end" stroke="#000" stroke-width="0.9">1.0</text></g>
<g transform="matrix(0.9974 0 0 0.9885 0.64 16.07)"><text x="376.0" y="1390" text-anchor="middle" stroke="#000" stroke-width="0.9">0</text></g>
<g transform="matrix(0.9659 0 0 1.0050 23.97 -5.85)"><text x="696.0" y="1390" text-anchor="middle" stroke="#000" stroke-width="0.9">25</text></g>
<g transform="matrix(1.0087 0 0 0.9885 -9.45 16.07)"><text x="1016.0" y="1390" text-anchor="middle" stroke="#000" stroke-width="0.9">50</text></g>
<g transform="matrix(0.9938 0 0 1.0220 7.41 -29.55)"><text x="1336.0" y="1390" text-anchor="middle" stroke="#000" stroke-width="0.9">75</text></g>
<g transform="matrix(0.9836 0 0 0.9885 27.28 16.07)"><text x="1656.0" y="1390" text-anchor="middle" stroke="#000" stroke-width="0.9">100</text></g>
<g transform="matrix(1.1625 0 0 1.0784 -170.46 -117.90)"><text x="1049" y="1501" stroke="#000" stroke-width="0.9">t</text></g>
<g transform="matrix(0.9750 0 0 1.0732 25.05 -108.22)"><text x="1119" y="1501" stroke="#000" stroke-width="0.9">(fs)</text></g>
<g transform="matrix(1.1594 0 0 1.0203 -111.68 -4.62)"><text x="708" y="187" font-style="italic" stroke="#000" stroke-width="0.9">N</text></g>
<g transform="matrix(1.0571 0 0 1.0295 -48.03 -6.03)"><text x="778" y="203" font-style="italic" font-size="66" stroke="#000" stroke-width="0.9">C</text></g>
<g transform="matrix(1.4143 0 0 0.9130 -355.10 27.89)"><text x="843" y="180" stroke="#000" stroke-width="0.9">=</text></g>
<g transform="matrix(0.9936 0 0 0.9852 1.85 1.80)"><text x="925" y="188" stroke="#000" stroke-width="0.9">300</text></g>
<g transform="matrix(0.9836 0 0 0.9869 4.79 3.22)"><text x="712" y="320" stroke="#000" stroke-width="0.9">100</text></g>
<g transform="matrix(0.9732 0 0 0.9803 36.80 2.56)"><text x="1473" y="194" stroke="#000" stroke-width="0.9">80</text></g>
<g transform="matrix(0.9643 0 0 0.9836 51.61 4.00)"><text x="1472" y="315" stroke="#000" stroke-width="0.9">40</text></g>
<g transform="matrix(1.3675 0 0 1.3650 -42.19 -221.76)"><text x="141" y="817" transform="rotate(-90 141 817)" font-family="WenQuanYi Zen Hei" >〈</text></g>
<g transform="matrix(0.8340 0 0 1.0467 22.57 -34.45)"><text x="141" y="781" transform="rotate(-90 141 781)" font-style="italic" stroke="#000" stroke-width="0.9">σ</text></g>
<g transform="matrix(1.4241 0 0 1.4138 -38.43 -291.72)"><text x="111" y="715" transform="rotate(-90 111 715)" font-size="62" stroke="#000" stroke-width="0.9">+</text></g>
<g transform="matrix(0.8340 0 0 1.0489 22.57 -29.78)"><text x="141" y="652" transform="rotate(-90 141 652)" font-style="italic" stroke="#000" stroke-width="0.9">σ</text></g>
<g transform="matrix(1.0000 0 0 1.3103 1.00 -177.51)"><text x="111" y="584" transform="rotate(-90 111 584)" font-size="62" stroke="#000" stroke-width="0.9">−</text></g>
<g transform="matrix(1.3675 0 0 1.3500 -42.19 -166.00)"><text x="141" y="520" transform="rotate(-90 141 520)" font-family="WenQuanYi Zen Hei" >〉</text></g>
</g>
</svg>
</body></html>
